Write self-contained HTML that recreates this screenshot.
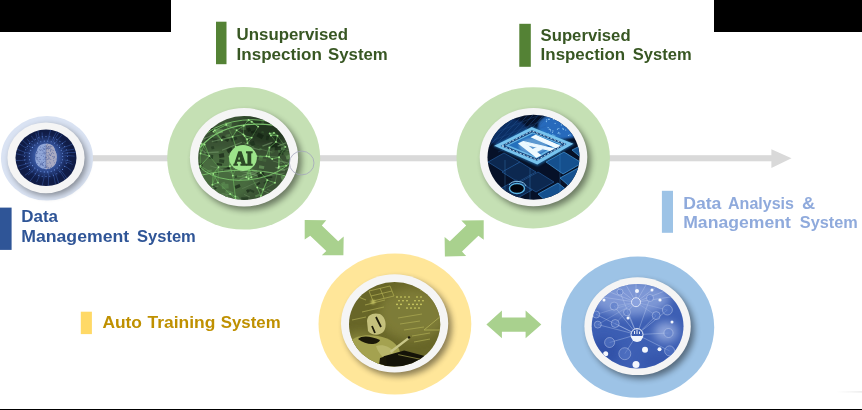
<!DOCTYPE html>
<html><head><meta charset="utf-8">
<style>
html,body{margin:0;padding:0;background:#fff;width:862px;height:410px;overflow:hidden}
svg{display:block}
text{font-family:"Liberation Sans",sans-serif;font-weight:bold}
</style></head><body>
<svg width="862" height="410" viewBox="0 0 862 410">
<defs>
  <filter id="sh" x="-30%" y="-30%" width="160%" height="160%">
    <feGaussianBlur stdDeviation="3"/>
  </filter>
  <filter id="bl1" x="-30%" y="-30%" width="160%" height="160%">
    <feGaussianBlur stdDeviation="1"/>
  </filter>
  <filter id="bl2" x="-50%" y="-50%" width="200%" height="200%">
    <feGaussianBlur stdDeviation="5"/>
  </filter>
  <radialGradient id="g1" cx="0.5" cy="0.5" r="0.5">
    <stop offset="0" stop-color="#3a64b8" stop-opacity="0.9"/>
    <stop offset="0.6" stop-color="#22408a" stop-opacity="0.6"/>
    <stop offset="1" stop-color="#0f1b45" stop-opacity="0"/>
  </radialGradient>
  <clipPath id="cp1"><ellipse cx="46" cy="157.8" rx="30.5" ry="28.3"/></clipPath>
  <clipPath id="cp2"><ellipse cx="244" cy="158" rx="45.8" ry="42"/></clipPath>
  <clipPath id="cp3"><ellipse cx="533.5" cy="157.2" rx="46" ry="42.5"/></clipPath>
  <clipPath id="cp4"><ellipse cx="394.6" cy="324.2" rx="45.6" ry="42.2"/></clipPath>
  <clipPath id="cp5"><ellipse cx="637.6" cy="326.2" rx="45.9" ry="42.3"/></clipPath>
</defs>
<rect width="862" height="410" fill="#fff"/>
<g opacity="0.998">
<!-- black bars -->
<rect x="0" y="0" width="171" height="32" fill="#000"/>
<rect x="714" y="0" width="148" height="32" fill="#000"/>
<rect x="0" y="409" width="862" height="1" fill="#000"/>
<defs><linearGradient id="fl" x1="0" x2="1"><stop offset="0" stop-color="#eaeaea" stop-opacity="0"/><stop offset="1" stop-color="#e6e6e6" stop-opacity="1"/></linearGradient></defs>
<rect x="836" y="391.3" width="26" height="1.2" fill="url(#fl)"/>

<!-- main gray line -->
<rect x="80" y="155.2" width="692" height="6.1" fill="#d9d9d9"/>
<polygon points="771.4,149.3 791.5,158.3 771.4,167.9" fill="#d9d9d9"/>

<!-- C1 -->
<ellipse cx="47" cy="158.3" rx="46" ry="42.3" fill="#dae3f3"/>
<ellipse cx="48.5" cy="160.5" rx="38.6" ry="35.4" fill="#000" opacity="0.38" filter="url(#sh)"/>
<ellipse cx="46" cy="157.8" rx="38.6" ry="35.4" fill="#f5f5f5"/>
<g clip-path="url(#cp1)">
<rect x="10" y="125" width="72" height="66" fill="#101c46"/>
<ellipse cx="46" cy="157" rx="27" ry="25" fill="url(#g1)"/>
<path d="M64.5,155.8 L68.9,155.6 L74.6,156.2" stroke="#4068b8" stroke-width="0.6" fill="none" opacity="0.75"/>
<path d="M64.5,160.0 L68.8,160.8 L71.6,161.8" stroke="#4068b8" stroke-width="0.6" fill="none" opacity="0.75"/>
<path d="M65.0,161.8 L69.1,162.9 L72.5,164.5" stroke="#4068b8" stroke-width="0.6" fill="none" opacity="0.75"/>
<path d="M63.9,165.8 L67.6,167.8 L71.4,170.7" stroke="#4068b8" stroke-width="0.6" fill="none" opacity="0.75"/>
<path d="M58.8,168.5 L61.8,171.4 L66.7,178.0" stroke="#4068b8" stroke-width="0.6" fill="none" opacity="0.75"/>
<path d="M58.2,169.9 L61.0,172.9 L66.0,180.9" stroke="#4068b8" stroke-width="0.6" fill="none" opacity="0.75"/>
<path d="M54.6,172.6 L56.5,176.2 L58.7,183.3" stroke="#4068b8" stroke-width="0.6" fill="none" opacity="0.75"/>
<path d="M52.6,173.5 L54.1,177.2 L55.4,183.8" stroke="#4068b8" stroke-width="0.6" fill="none" opacity="0.75"/>
<path d="M48.0,171.5 L48.6,175.5 L48.3,187.3" stroke="#4068b8" stroke-width="0.6" fill="none" opacity="0.75"/>
<path d="M44.3,174.3 L43.9,178.3 L41.8,187.2" stroke="#4068b8" stroke-width="0.6" fill="none" opacity="0.75"/>
<path d="M39.8,174.3 L38.5,178.1 L36.5,182.1" stroke="#4068b8" stroke-width="0.6" fill="none" opacity="0.75"/>
<path d="M37.2,171.1 L35.0,174.6 L28.5,183.1" stroke="#4068b8" stroke-width="0.6" fill="none" opacity="0.75"/>
<path d="M35.2,168.2 L32.4,171.2 L28.1,175.0" stroke="#4068b8" stroke-width="0.6" fill="none" opacity="0.75"/>
<path d="M31.6,169.8 L28.5,172.7 L24.8,175.4" stroke="#4068b8" stroke-width="0.6" fill="none" opacity="0.75"/>
<path d="M30.9,164.7 L27.2,166.8 L19.9,169.7" stroke="#4068b8" stroke-width="0.6" fill="none" opacity="0.75"/>
<path d="M29.6,162.7 L25.6,164.2 L17.6,166.2" stroke="#4068b8" stroke-width="0.6" fill="none" opacity="0.75"/>
<path d="M26.2,159.7 L21.9,160.4 L15.1,160.5" stroke="#4068b8" stroke-width="0.6" fill="none" opacity="0.75"/>
<path d="M26.1,155.2 L21.8,155.0 L12.6,152.9" stroke="#4068b8" stroke-width="0.6" fill="none" opacity="0.75"/>
<path d="M29.5,153.2 L25.3,152.4 L14.7,148.4" stroke="#4068b8" stroke-width="0.6" fill="none" opacity="0.75"/>
<path d="M27.8,148.5 L23.9,146.8 L19.0,143.5" stroke="#4068b8" stroke-width="0.6" fill="none" opacity="0.75"/>
<path d="M31.8,147.7 L28.2,145.5 L20.2,138.2" stroke="#4068b8" stroke-width="0.6" fill="none" opacity="0.75"/>
<path d="M33.3,145.5 L30.1,142.8 L27.4,139.3" stroke="#4068b8" stroke-width="0.6" fill="none" opacity="0.75"/>
<path d="M34.6,140.7 L32.2,137.4 L31.5,135.8" stroke="#4068b8" stroke-width="0.6" fill="none" opacity="0.75"/>
<path d="M38.8,141.3 L37.0,137.6 L35.8,133.2" stroke="#4068b8" stroke-width="0.6" fill="none" opacity="0.75"/>
<path d="M40.0,139.3 L38.7,135.5 L37.3,126.7" stroke="#4068b8" stroke-width="0.6" fill="none" opacity="0.75"/>
<path d="M42.9,139.3 L42.2,135.3 L42.1,132.4" stroke="#4068b8" stroke-width="0.6" fill="none" opacity="0.75"/>
<path d="M48.2,140.3 L48.8,136.3 L51.7,126.0" stroke="#4068b8" stroke-width="0.6" fill="none" opacity="0.75"/>
<path d="M52.4,140.5 L53.9,136.8 L59.2,127.2" stroke="#4068b8" stroke-width="0.6" fill="none" opacity="0.75"/>
<path d="M52.9,142.6 L54.7,139.0 L59.9,131.0" stroke="#4068b8" stroke-width="0.6" fill="none" opacity="0.75"/>
<path d="M55.2,143.2 L57.6,139.9 L62.5,134.2" stroke="#4068b8" stroke-width="0.6" fill="none" opacity="0.75"/>
<path d="M58.7,146.2 L61.9,143.5 L65.9,141.0" stroke="#4068b8" stroke-width="0.6" fill="none" opacity="0.75"/>
<path d="M61.4,148.8 L65.2,146.9 L76.0,143.0" stroke="#4068b8" stroke-width="0.6" fill="none" opacity="0.75"/>
<path d="M63.0,151.5 L67.1,150.3 L74.2,149.2" stroke="#4068b8" stroke-width="0.6" fill="none" opacity="0.75"/>
<path d="M64.7,153.3 L68.9,152.6 L76.1,152.4" stroke="#4068b8" stroke-width="0.6" fill="none" opacity="0.75"/>
<circle cx="62.7" cy="156.5" r="0.55" fill="#7aa0ea"/>
<circle cx="62.4" cy="159.7" r="0.55" fill="#7aa0ea"/>
<circle cx="61.3" cy="162.8" r="0.55" fill="#7aa0ea"/>
<circle cx="59.5" cy="165.6" r="0.55" fill="#7aa0ea"/>
<circle cx="57.2" cy="168.0" r="0.55" fill="#7aa0ea"/>
<circle cx="54.4" cy="169.9" r="0.55" fill="#7aa0ea"/>
<circle cx="51.2" cy="171.2" r="0.55" fill="#7aa0ea"/>
<circle cx="47.7" cy="171.9" r="0.55" fill="#7aa0ea"/>
<circle cx="44.3" cy="171.9" r="0.55" fill="#7aa0ea"/>
<circle cx="40.8" cy="171.2" r="0.55" fill="#7aa0ea"/>
<circle cx="37.6" cy="169.9" r="0.55" fill="#7aa0ea"/>
<circle cx="34.8" cy="168.0" r="0.55" fill="#7aa0ea"/>
<circle cx="32.5" cy="165.6" r="0.55" fill="#7aa0ea"/>
<circle cx="30.7" cy="162.8" r="0.55" fill="#7aa0ea"/>
<circle cx="29.6" cy="159.7" r="0.55" fill="#7aa0ea"/>
<circle cx="29.3" cy="156.5" r="0.55" fill="#7aa0ea"/>
<circle cx="29.6" cy="153.3" r="0.55" fill="#7aa0ea"/>
<circle cx="30.7" cy="150.2" r="0.55" fill="#7aa0ea"/>
<circle cx="32.5" cy="147.4" r="0.55" fill="#7aa0ea"/>
<circle cx="34.8" cy="145.0" r="0.55" fill="#7aa0ea"/>
<circle cx="37.6" cy="143.1" r="0.55" fill="#7aa0ea"/>
<circle cx="40.8" cy="141.8" r="0.55" fill="#7aa0ea"/>
<circle cx="44.3" cy="141.1" r="0.55" fill="#7aa0ea"/>
<circle cx="47.7" cy="141.1" r="0.55" fill="#7aa0ea"/>
<circle cx="51.2" cy="141.8" r="0.55" fill="#7aa0ea"/>
<circle cx="54.4" cy="143.1" r="0.55" fill="#7aa0ea"/>
<circle cx="57.2" cy="145.0" r="0.55" fill="#7aa0ea"/>
<circle cx="59.5" cy="147.4" r="0.55" fill="#7aa0ea"/>
<circle cx="61.3" cy="150.2" r="0.55" fill="#7aa0ea"/>
<circle cx="62.4" cy="153.3" r="0.55" fill="#7aa0ea"/>
<circle cx="67.6" cy="156.5" r="0.55" fill="#5a82d4"/>
<circle cx="67.3" cy="160.0" r="0.55" fill="#5a82d4"/>
<circle cx="66.3" cy="163.3" r="0.55" fill="#5a82d4"/>
<circle cx="64.7" cy="166.5" r="0.55" fill="#5a82d4"/>
<circle cx="62.5" cy="169.4" r="0.55" fill="#5a82d4"/>
<circle cx="59.9" cy="171.8" r="0.55" fill="#5a82d4"/>
<circle cx="56.8" cy="173.8" r="0.55" fill="#5a82d4"/>
<circle cx="53.4" cy="175.3" r="0.55" fill="#5a82d4"/>
<circle cx="49.8" cy="176.2" r="0.55" fill="#5a82d4"/>
<circle cx="46.0" cy="176.5" r="0.55" fill="#5a82d4"/>
<circle cx="42.2" cy="176.2" r="0.55" fill="#5a82d4"/>
<circle cx="38.6" cy="175.3" r="0.55" fill="#5a82d4"/>
<circle cx="35.2" cy="173.8" r="0.55" fill="#5a82d4"/>
<circle cx="32.1" cy="171.8" r="0.55" fill="#5a82d4"/>
<circle cx="29.5" cy="169.4" r="0.55" fill="#5a82d4"/>
<circle cx="27.3" cy="166.5" r="0.55" fill="#5a82d4"/>
<circle cx="25.7" cy="163.3" r="0.55" fill="#5a82d4"/>
<circle cx="24.7" cy="160.0" r="0.55" fill="#5a82d4"/>
<circle cx="24.4" cy="156.5" r="0.55" fill="#5a82d4"/>
<circle cx="24.7" cy="153.0" r="0.55" fill="#5a82d4"/>
<circle cx="25.7" cy="149.7" r="0.55" fill="#5a82d4"/>
<circle cx="27.3" cy="146.5" r="0.55" fill="#5a82d4"/>
<circle cx="29.5" cy="143.6" r="0.55" fill="#5a82d4"/>
<circle cx="32.1" cy="141.2" r="0.55" fill="#5a82d4"/>
<circle cx="35.2" cy="139.2" r="0.55" fill="#5a82d4"/>
<circle cx="38.6" cy="137.7" r="0.55" fill="#5a82d4"/>
<circle cx="42.2" cy="136.8" r="0.55" fill="#5a82d4"/>
<circle cx="46.0" cy="136.5" r="0.55" fill="#5a82d4"/>
<circle cx="49.8" cy="136.8" r="0.55" fill="#5a82d4"/>
<circle cx="53.4" cy="137.7" r="0.55" fill="#5a82d4"/>
<circle cx="56.8" cy="139.2" r="0.55" fill="#5a82d4"/>
<circle cx="59.9" cy="141.2" r="0.55" fill="#5a82d4"/>
<circle cx="62.5" cy="143.6" r="0.55" fill="#5a82d4"/>
<circle cx="64.7" cy="146.5" r="0.55" fill="#5a82d4"/>
<circle cx="66.3" cy="149.7" r="0.55" fill="#5a82d4"/>
<circle cx="67.3" cy="153.0" r="0.55" fill="#5a82d4"/>
<ellipse cx="46" cy="156.5" rx="15" ry="16" fill="#5a7ed0" opacity="0.55" filter="url(#bl2)"/>
<path d="M46,143.8 C40.5,143.8 37.5,146.5 37,150.5 C34.8,153.5 34.8,159.5 36.2,163 C38.2,167 42,169.2 46,169.2 C50,169.2 53.8,167 55.8,163 C57.2,159.5 57.2,153.5 55,150.5 C54.5,146.5 51.5,143.8 46,143.8 Z" fill="#90a6d8"/>
<clipPath id="brR"><rect x="46" y="140" width="14" height="32"/></clipPath>
<path d="M46,143.8 C40.5,143.8 37.5,146.5 37,150.5 C34.8,153.5 34.8,159.5 36.2,163 C38.2,167 42,169.2 46,169.2 C50,169.2 53.8,167 55.8,163 C57.2,159.5 57.2,153.5 55,150.5 C54.5,146.5 51.5,143.8 46,143.8 Z" fill="#a8aac2" clip-path="url(#brR)"/>
<circle cx="45.2" cy="153.4" r="0.5" fill="#4a5e9c" opacity="0.7"/>
<circle cx="35.6" cy="156.6" r="0.5" fill="#4a5e9c" opacity="0.7"/>
<circle cx="47.1" cy="159.3" r="0.5" fill="#4a5e9c" opacity="0.7"/>
<circle cx="36.4" cy="153.5" r="0.5" fill="#4a5e9c" opacity="0.7"/>
<circle cx="50.3" cy="155.3" r="0.5" fill="#4a5e9c" opacity="0.7"/>
<circle cx="50.7" cy="148.1" r="0.5" fill="#4a5e9c" opacity="0.7"/>
<circle cx="40.5" cy="147.0" r="0.5" fill="#4a5e9c" opacity="0.7"/>
<circle cx="46.1" cy="166.8" r="0.5" fill="#4a5e9c" opacity="0.7"/>
<circle cx="47.9" cy="163.2" r="0.5" fill="#4a5e9c" opacity="0.7"/>
<circle cx="43.6" cy="162.5" r="0.5" fill="#4a5e9c" opacity="0.7"/>
<circle cx="37.6" cy="151.4" r="0.5" fill="#4a5e9c" opacity="0.7"/>
<circle cx="49.7" cy="162.0" r="0.5" fill="#4a5e9c" opacity="0.7"/>
<circle cx="44.4" cy="146.4" r="0.5" fill="#4a5e9c" opacity="0.7"/>
<circle cx="41.1" cy="149.4" r="0.5" fill="#4a5e9c" opacity="0.7"/>
<circle cx="41.4" cy="164.1" r="0.5" fill="#4a5e9c" opacity="0.7"/>
<circle cx="39.7" cy="165.9" r="0.5" fill="#4a5e9c" opacity="0.7"/>
<circle cx="43.5" cy="156.3" r="0.5" fill="#4a5e9c" opacity="0.7"/>
<circle cx="36.0" cy="154.7" r="0.5" fill="#4a5e9c" opacity="0.7"/>
<circle cx="48.0" cy="147.3" r="0.5" fill="#4a5e9c" opacity="0.7"/>
<circle cx="47.7" cy="166.1" r="0.5" fill="#4a5e9c" opacity="0.7"/>
<circle cx="37.3" cy="157.5" r="0.5" fill="#4a5e9c" opacity="0.7"/>
<circle cx="45.9" cy="166.8" r="0.5" fill="#4a5e9c" opacity="0.7"/>
<circle cx="44.3" cy="154.0" r="0.5" fill="#4a5e9c" opacity="0.7"/>
<circle cx="48.9" cy="146.6" r="0.5" fill="#4a5e9c" opacity="0.7"/>
<circle cx="47.7" cy="148.5" r="0.5" fill="#4a5e9c" opacity="0.7"/>
<circle cx="48.3" cy="167.7" r="0.5" fill="#4a5e9c" opacity="0.7"/>
<circle cx="36.6" cy="157.8" r="0.5" fill="#4a5e9c" opacity="0.7"/>
<circle cx="48.2" cy="147.9" r="0.5" fill="#4a5e9c" opacity="0.7"/>
<circle cx="50.3" cy="167.5" r="0.5" fill="#4a5e9c" opacity="0.7"/>
<circle cx="40.5" cy="159.2" r="0.5" fill="#4a5e9c" opacity="0.7"/>
<circle cx="36.4" cy="153.2" r="0.5" fill="#4a5e9c" opacity="0.7"/>
<circle cx="49.7" cy="158.7" r="0.5" fill="#4a5e9c" opacity="0.7"/>
<circle cx="51.8" cy="146.4" r="0.5" fill="#4a5e9c" opacity="0.7"/>
<circle cx="42.8" cy="165.4" r="0.5" fill="#4a5e9c" opacity="0.7"/>
<circle cx="47.8" cy="155.3" r="0.5" fill="#4a5e9c" opacity="0.7"/>
<circle cx="43.9" cy="168.4" r="0.5" fill="#4a5e9c" opacity="0.7"/>
<circle cx="47.6" cy="144.7" r="0.5" fill="#4a5e9c" opacity="0.7"/>
<circle cx="52.3" cy="152.3" r="0.5" fill="#4a5e9c" opacity="0.7"/>
<circle cx="44.6" cy="149.5" r="0.5" fill="#4a5e9c" opacity="0.7"/>
<circle cx="44.8" cy="152.2" r="0.5" fill="#4a5e9c" opacity="0.7"/>
<circle cx="37.4" cy="159.7" r="0.5" fill="#4a5e9c" opacity="0.7"/>
<circle cx="37.7" cy="163.4" r="0.5" fill="#4a5e9c" opacity="0.7"/>
<circle cx="52.5" cy="156.4" r="0.5" fill="#4a5e9c" opacity="0.7"/>
<circle cx="50.4" cy="150.4" r="0.5" fill="#4a5e9c" opacity="0.7"/>
<circle cx="51.0" cy="154.7" r="0.5" fill="#4a5e9c" opacity="0.7"/>
<circle cx="43.9" cy="153.4" r="0.5" fill="#4a5e9c" opacity="0.7"/>
<circle cx="53.6" cy="153.3" r="0.5" fill="#4a5e9c" opacity="0.7"/>
<circle cx="49.5" cy="148.5" r="0.5" fill="#4a5e9c" opacity="0.7"/>
<circle cx="53.2" cy="150.6" r="0.5" fill="#4a5e9c" opacity="0.7"/>
<circle cx="56.2" cy="159.1" r="0.5" fill="#4a5e9c" opacity="0.7"/>
<circle cx="39.9" cy="153.8" r="0.5" fill="#4a5e9c" opacity="0.7"/>
<circle cx="48.3" cy="167.9" r="0.5" fill="#4a5e9c" opacity="0.7"/>
<circle cx="42.9" cy="147.7" r="0.5" fill="#4a5e9c" opacity="0.7"/>
<circle cx="47.3" cy="147.7" r="0.5" fill="#4a5e9c" opacity="0.7"/>
<circle cx="37.3" cy="157.9" r="0.5" fill="#4a5e9c" opacity="0.7"/>
<circle cx="50.1" cy="145.9" r="0.5" fill="#4a5e9c" opacity="0.7"/>
<circle cx="45.0" cy="161.5" r="0.5" fill="#4a5e9c" opacity="0.7"/>
<circle cx="51.5" cy="153.6" r="0.5" fill="#4a5e9c" opacity="0.7"/>
<circle cx="50.5" cy="163.1" r="0.5" fill="#4a5e9c" opacity="0.7"/>
<circle cx="54.0" cy="156.4" r="0.5" fill="#4a5e9c" opacity="0.7"/>
<circle cx="46.6" cy="148.5" r="0.5" fill="#4a5e9c" opacity="0.7"/>
<circle cx="48.7" cy="146.4" r="0.5" fill="#4a5e9c" opacity="0.7"/>
<circle cx="51.9" cy="149.7" r="0.5" fill="#4a5e9c" opacity="0.7"/>
<circle cx="45.1" cy="157.9" r="0.5" fill="#4a5e9c" opacity="0.7"/>
<circle cx="43.7" cy="148.5" r="0.5" fill="#4a5e9c" opacity="0.7"/>
<circle cx="45.6" cy="167.4" r="0.5" fill="#4a5e9c" opacity="0.7"/>
<circle cx="46.7" cy="167.3" r="0.5" fill="#4a5e9c" opacity="0.7"/>
<circle cx="54.2" cy="157.6" r="0.5" fill="#4a5e9c" opacity="0.7"/>
<circle cx="46.5" cy="157.4" r="0.5" fill="#4a5e9c" opacity="0.7"/>
<circle cx="49.0" cy="157.5" r="0.5" fill="#4a5e9c" opacity="0.7"/>
<circle cx="41.8" cy="162.0" r="0.5" fill="#4a5e9c" opacity="0.7"/>
<circle cx="50.6" cy="146.8" r="0.5" fill="#4a5e9c" opacity="0.7"/>
<circle cx="50.2" cy="155.4" r="0.5" fill="#4a5e9c" opacity="0.7"/>
<circle cx="45.8" cy="159.8" r="0.5" fill="#4a5e9c" opacity="0.7"/>
<circle cx="36.6" cy="159.0" r="0.5" fill="#4a5e9c" opacity="0.7"/>
<circle cx="43.3" cy="165.7" r="0.5" fill="#4a5e9c" opacity="0.7"/>
<circle cx="40.4" cy="164.4" r="0.5" fill="#4a5e9c" opacity="0.7"/>
<circle cx="50.8" cy="159.5" r="0.5" fill="#4a5e9c" opacity="0.7"/>
<circle cx="48.0" cy="159.3" r="0.5" fill="#4a5e9c" opacity="0.7"/>
<circle cx="49.7" cy="154.2" r="0.5" fill="#4a5e9c" opacity="0.7"/>
<circle cx="48.3" cy="148.7" r="0.5" fill="#4a5e9c" opacity="0.7"/>
<circle cx="36.9" cy="153.0" r="0.5" fill="#4a5e9c" opacity="0.7"/>
<circle cx="45.4" cy="157.4" r="0.5" fill="#4a5e9c" opacity="0.7"/>
<circle cx="42.5" cy="163.4" r="0.5" fill="#4a5e9c" opacity="0.7"/>
<circle cx="47.9" cy="168.1" r="0.5" fill="#4a5e9c" opacity="0.7"/>
<circle cx="37.7" cy="152.8" r="0.5" fill="#4a5e9c" opacity="0.7"/>
<circle cx="40.4" cy="163.3" r="0.5" fill="#4a5e9c" opacity="0.7"/>
<circle cx="39.5" cy="149.7" r="0.5" fill="#4a5e9c" opacity="0.7"/>
<circle cx="43.3" cy="162.4" r="0.5" fill="#4a5e9c" opacity="0.7"/>
<circle cx="45.3" cy="157.0" r="0.5" fill="#4a5e9c" opacity="0.7"/>
<circle cx="43.3" cy="159.8" r="0.5" fill="#4a5e9c" opacity="0.7"/>
<circle cx="40.5" cy="150.6" r="0.5" fill="#4a5e9c" opacity="0.7"/>
<circle cx="46.4" cy="149.1" r="0.5" fill="#4a5e9c" opacity="0.7"/>
<circle cx="44.7" cy="167.3" r="0.5" fill="#4a5e9c" opacity="0.7"/>
<circle cx="40.8" cy="165.1" r="0.5" fill="#4a5e9c" opacity="0.7"/>
<circle cx="48.2" cy="149.7" r="0.5" fill="#4a5e9c" opacity="0.7"/>
<circle cx="36.7" cy="151.0" r="0.5" fill="#4a5e9c" opacity="0.7"/>
<circle cx="41.8" cy="163.8" r="0.5" fill="#4a5e9c" opacity="0.7"/>
<circle cx="42.2" cy="150.3" r="0.5" fill="#4a5e9c" opacity="0.7"/>
<circle cx="48.2" cy="156.3" r="0.5" fill="#4a5e9c" opacity="0.7"/>
<circle cx="42.8" cy="164.7" r="0.5" fill="#4a5e9c" opacity="0.7"/>
<circle cx="43.9" cy="149.4" r="0.5" fill="#4a5e9c" opacity="0.7"/>
<circle cx="41.3" cy="155.6" r="0.5" fill="#4a5e9c" opacity="0.7"/>
<circle cx="48.3" cy="158.2" r="0.5" fill="#4a5e9c" opacity="0.7"/>
<circle cx="44.7" cy="148.8" r="0.5" fill="#4a5e9c" opacity="0.7"/>
<circle cx="43.9" cy="152.2" r="0.5" fill="#4a5e9c" opacity="0.7"/>
<circle cx="39.1" cy="157.6" r="0.5" fill="#4a5e9c" opacity="0.7"/>
<circle cx="39.5" cy="161.7" r="0.5" fill="#4a5e9c" opacity="0.7"/>
<circle cx="49.3" cy="147.7" r="0.5" fill="#4a5e9c" opacity="0.7"/>
<circle cx="48.6" cy="152.5" r="0.5" fill="#4a5e9c" opacity="0.7"/>
<circle cx="44.9" cy="159.1" r="0.5" fill="#4a5e9c" opacity="0.7"/>
<circle cx="51.5" cy="165.9" r="0.5" fill="#4a5e9c" opacity="0.7"/>
<circle cx="50.9" cy="149.5" r="0.5" fill="#4a5e9c" opacity="0.7"/>
<circle cx="46.9" cy="152.5" r="0.5" fill="#4a5e9c" opacity="0.7"/>
<circle cx="35.9" cy="157.8" r="0.5" fill="#4a5e9c" opacity="0.7"/>
<circle cx="45.4" cy="165.5" r="0.5" fill="#4a5e9c" opacity="0.7"/>
<circle cx="42.3" cy="164.6" r="0.5" fill="#4a5e9c" opacity="0.7"/>
<circle cx="46.3" cy="146.7" r="0.5" fill="#4a5e9c" opacity="0.7"/>
<circle cx="50.6" cy="151.2" r="0.5" fill="#4a5e9c" opacity="0.7"/>
<circle cx="46.7" cy="146.0" r="0.5" fill="#4a5e9c" opacity="0.7"/>
<circle cx="49.1" cy="153.9" r="0.5" fill="#4a5e9c" opacity="0.7"/>
<circle cx="54.2" cy="156.7" r="0.5" fill="#4a5e9c" opacity="0.7"/>
<circle cx="38.3" cy="161.1" r="0.5" fill="#4a5e9c" opacity="0.7"/>
<circle cx="43.0" cy="150.9" r="0.5" fill="#4a5e9c" opacity="0.7"/>
<circle cx="42.2" cy="153.7" r="0.5" fill="#4a5e9c" opacity="0.7"/>
<circle cx="39.3" cy="159.2" r="0.5" fill="#4a5e9c" opacity="0.7"/>
<circle cx="53.7" cy="158.2" r="0.5" fill="#4a5e9c" opacity="0.7"/>
<circle cx="35.9" cy="156.0" r="0.5" fill="#4a5e9c" opacity="0.7"/>
<circle cx="53.7" cy="160.8" r="0.5" fill="#4a5e9c" opacity="0.7"/>
<circle cx="54.6" cy="162.7" r="0.5" fill="#4a5e9c" opacity="0.7"/>
<path d="M46,145 L46,168" stroke="#5a6a98" stroke-width="0.6"/>
</g>

<!-- C2 -->
<ellipse cx="243.7" cy="158.3" rx="76.5" ry="71.3" fill="#c5e0b4"/>
<ellipse cx="247.5" cy="161" rx="54.1" ry="49.2" fill="#000" opacity="0.45" filter="url(#sh)"/>
<ellipse cx="244" cy="157.3" rx="54.1" ry="49.2" fill="#f5f5f5"/>
<g clip-path="url(#cp2)">
<rect x="196" y="114" width="96" height="90" fill="#3a5234"/>
<ellipse cx="222" cy="176" rx="34" ry="26" fill="#55804a" opacity="0.55" filter="url(#bl2)"/>
<rect x="239.4" y="164.4" width="7.5" height="3.1" fill="#223820" opacity="0.75" transform="rotate(25 239.4 164.4)"/>
<rect x="214.2" y="186.4" width="4.9" height="3.6" fill="#45683c" opacity="0.75" transform="rotate(-28 214.2 186.4)"/>
<rect x="225.1" y="122.2" width="6.9" height="3.9" fill="#5a8a50" opacity="0.75" transform="rotate(7 225.1 122.2)"/>
<rect x="234.0" y="154.8" width="6.4" height="3.8" fill="#223820" opacity="0.75" transform="rotate(-34 234.0 154.8)"/>
<rect x="246.7" y="119.4" width="3.1" height="2.3" fill="#5a8a50" opacity="0.75" transform="rotate(19 246.7 119.4)"/>
<rect x="227.3" y="167.2" width="3.2" height="2.3" fill="#1a2a18" opacity="0.75" transform="rotate(-0 227.3 167.2)"/>
<rect x="259.6" y="155.2" width="3.7" height="5.0" fill="#5a8a50" opacity="0.75" transform="rotate(15 259.6 155.2)"/>
<rect x="226.3" y="134.7" width="3.7" height="1.7" fill="#5a8a50" opacity="0.75" transform="rotate(-7 226.3 134.7)"/>
<rect x="277.3" y="148.8" width="7.7" height="4.5" fill="#5a8a50" opacity="0.75" transform="rotate(-20 277.3 148.8)"/>
<rect x="285.0" y="118.7" width="4.3" height="4.0" fill="#6a9a5e" opacity="0.75" transform="rotate(-30 285.0 118.7)"/>
<rect x="256.4" y="184.1" width="3.6" height="1.8" fill="#1a2a18" opacity="0.75" transform="rotate(-34 256.4 184.1)"/>
<rect x="235.4" y="197.1" width="2.8" height="4.0" fill="#5a8a50" opacity="0.75" transform="rotate(-31 235.4 197.1)"/>
<rect x="272.5" y="130.0" width="5.4" height="3.1" fill="#45683c" opacity="0.75" transform="rotate(34 272.5 130.0)"/>
<rect x="269.9" y="151.7" width="4.3" height="2.9" fill="#45683c" opacity="0.75" transform="rotate(-35 269.9 151.7)"/>
<rect x="279.0" y="201.7" width="5.6" height="5.0" fill="#5a8a50" opacity="0.75" transform="rotate(-20 279.0 201.7)"/>
<rect x="233.9" y="190.9" width="5.9" height="1.9" fill="#45683c" opacity="0.75" transform="rotate(-20 233.9 190.9)"/>
<rect x="220.8" y="183.5" width="4.0" height="2.5" fill="#5a8a50" opacity="0.75" transform="rotate(-30 220.8 183.5)"/>
<rect x="216.0" y="171.3" width="2.1" height="2.8" fill="#223820" opacity="0.75" transform="rotate(-3 216.0 171.3)"/>
<rect x="288.1" y="157.5" width="5.4" height="4.5" fill="#45683c" opacity="0.75" transform="rotate(9 288.1 157.5)"/>
<rect x="225.8" y="134.6" width="5.7" height="4.0" fill="#45683c" opacity="0.75" transform="rotate(17 225.8 134.6)"/>
<rect x="286.3" y="131.7" width="7.7" height="4.6" fill="#223820" opacity="0.75" transform="rotate(-30 286.3 131.7)"/>
<rect x="200.6" y="123.8" width="5.1" height="2.4" fill="#1a2a18" opacity="0.75" transform="rotate(14 200.6 123.8)"/>
<rect x="220.7" y="188.1" width="5.6" height="2.5" fill="#45683c" opacity="0.75" transform="rotate(30 220.7 188.1)"/>
<rect x="289.8" y="125.4" width="4.9" height="3.8" fill="#223820" opacity="0.75" transform="rotate(8 289.8 125.4)"/>
<rect x="222.9" y="196.6" width="3.2" height="1.6" fill="#1a2a18" opacity="0.75" transform="rotate(-6 222.9 196.6)"/>
<rect x="219.9" y="118.2" width="3.7" height="3.4" fill="#45683c" opacity="0.75" transform="rotate(-29 219.9 118.2)"/>
<rect x="209.3" y="154.5" width="4.0" height="4.1" fill="#223820" opacity="0.75" transform="rotate(6 209.3 154.5)"/>
<rect x="209.5" y="117.2" width="2.1" height="4.7" fill="#1a2a18" opacity="0.75" transform="rotate(-13 209.5 117.2)"/>
<rect x="199.2" y="167.9" width="2.4" height="1.7" fill="#1a2a18" opacity="0.75" transform="rotate(-13 199.2 167.9)"/>
<rect x="291.9" y="120.8" width="5.3" height="4.1" fill="#1a2a18" opacity="0.75" transform="rotate(17 291.9 120.8)"/>
<rect x="208.4" y="200.7" width="4.0" height="1.8" fill="#6a9a5e" opacity="0.75" transform="rotate(28 208.4 200.7)"/>
<rect x="279.6" y="151.5" width="6.7" height="4.5" fill="#223820" opacity="0.75" transform="rotate(-34 279.6 151.5)"/>
<rect x="259.6" y="148.1" width="2.1" height="1.8" fill="#5a8a50" opacity="0.75" transform="rotate(10 259.6 148.1)"/>
<rect x="291.4" y="193.2" width="6.4" height="2.9" fill="#1a2a18" opacity="0.75" transform="rotate(14 291.4 193.2)"/>
<rect x="239.9" y="155.6" width="5.2" height="3.3" fill="#223820" opacity="0.75" transform="rotate(-33 239.9 155.6)"/>
<rect x="253.7" y="157.3" width="3.4" height="3.9" fill="#6a9a5e" opacity="0.75" transform="rotate(20 253.7 157.3)"/>
<rect x="259.4" y="157.8" width="7.4" height="2.8" fill="#45683c" opacity="0.75" transform="rotate(12 259.4 157.8)"/>
<rect x="215.4" y="129.3" width="7.4" height="3.8" fill="#6a9a5e" opacity="0.75" transform="rotate(-0 215.4 129.3)"/>
<rect x="219.2" y="150.4" width="3.5" height="3.7" fill="#45683c" opacity="0.75" transform="rotate(27 219.2 150.4)"/>
<rect x="232.9" y="166.5" width="3.9" height="2.0" fill="#6a9a5e" opacity="0.75" transform="rotate(-10 232.9 166.5)"/>
<rect x="282.0" y="117.7" width="2.4" height="4.9" fill="#45683c" opacity="0.75" transform="rotate(-27 282.0 117.7)"/>
<rect x="241.2" y="197.3" width="7.0" height="2.8" fill="#223820" opacity="0.75" transform="rotate(-0 241.2 197.3)"/>
<rect x="226.3" y="189.5" width="7.9" height="3.1" fill="#5a8a50" opacity="0.75" transform="rotate(23 226.3 189.5)"/>
<rect x="222.7" y="168.7" width="6.1" height="2.5" fill="#1a2a18" opacity="0.75" transform="rotate(-13 222.7 168.7)"/>
<rect x="272.0" y="115.7" width="2.8" height="3.1" fill="#5a8a50" opacity="0.75" transform="rotate(19 272.0 115.7)"/>
<rect x="221.6" y="184.1" width="6.8" height="4.9" fill="#5a8a50" opacity="0.75" transform="rotate(-4 221.6 184.1)"/>
<rect x="256.5" y="173.0" width="6.8" height="4.9" fill="#1a2a18" opacity="0.75" transform="rotate(-21 256.5 173.0)"/>
<rect x="275.1" y="137.0" width="6.3" height="4.1" fill="#223820" opacity="0.75" transform="rotate(15 275.1 137.0)"/>
<rect x="213.2" y="138.5" width="4.1" height="3.9" fill="#223820" opacity="0.75" transform="rotate(0 213.2 138.5)"/>
<rect x="291.7" y="128.3" width="7.1" height="3.9" fill="#45683c" opacity="0.75" transform="rotate(-29 291.7 128.3)"/>
<rect x="285.5" y="179.0" width="2.8" height="3.1" fill="#1a2a18" opacity="0.75" transform="rotate(27 285.5 179.0)"/>
<rect x="196.6" y="163.5" width="5.9" height="3.3" fill="#1a2a18" opacity="0.75" transform="rotate(-3 196.6 163.5)"/>
<rect x="258.5" y="132.4" width="6.3" height="4.4" fill="#1a2a18" opacity="0.75" transform="rotate(30 258.5 132.4)"/>
<rect x="207.9" y="135.8" width="4.3" height="1.8" fill="#1a2a18" opacity="0.75" transform="rotate(3 207.9 135.8)"/>
<rect x="271.9" y="142.8" width="7.5" height="4.5" fill="#1a2a18" opacity="0.75" transform="rotate(0 271.9 142.8)"/>
<rect x="199.6" y="144.8" width="4.5" height="2.5" fill="#5a8a50" opacity="0.75" transform="rotate(-20 199.6 144.8)"/>
<rect x="279.3" y="152.6" width="2.2" height="3.4" fill="#1a2a18" opacity="0.75" transform="rotate(20 279.3 152.6)"/>
<rect x="209.5" y="127.4" width="5.1" height="4.0" fill="#1a2a18" opacity="0.75" transform="rotate(13 209.5 127.4)"/>
<rect x="286.8" y="158.3" width="7.7" height="1.8" fill="#45683c" opacity="0.75" transform="rotate(-4 286.8 158.3)"/>
<rect x="249.6" y="188.8" width="5.4" height="2.1" fill="#223820" opacity="0.75" transform="rotate(24 249.6 188.8)"/>
<rect x="249.8" y="142.1" width="4.3" height="4.5" fill="#223820" opacity="0.75" transform="rotate(-20 249.8 142.1)"/>
<rect x="277.7" y="201.2" width="5.1" height="3.5" fill="#45683c" opacity="0.75" transform="rotate(-6 277.7 201.2)"/>
<rect x="207.0" y="114.4" width="4.3" height="3.4" fill="#5a8a50" opacity="0.75" transform="rotate(1 207.0 114.4)"/>
<rect x="234.5" y="186.1" width="5.4" height="3.2" fill="#1a2a18" opacity="0.75" transform="rotate(-23 234.5 186.1)"/>
<rect x="285.4" y="155.3" width="7.5" height="4.3" fill="#6a9a5e" opacity="0.75" transform="rotate(-16 285.4 155.3)"/>
<rect x="241.4" y="125.4" width="4.6" height="4.4" fill="#6a9a5e" opacity="0.75" transform="rotate(2 241.4 125.4)"/>
<rect x="206.4" y="151.8" width="2.2" height="2.4" fill="#1a2a18" opacity="0.75" transform="rotate(20 206.4 151.8)"/>
<rect x="198.2" y="131.5" width="3.4" height="3.9" fill="#1a2a18" opacity="0.75" transform="rotate(16 198.2 131.5)"/>
<rect x="219.5" y="158.9" width="5.0" height="3.5" fill="#223820" opacity="0.75" transform="rotate(9 219.5 158.9)"/>
<rect x="264.9" y="177.1" width="7.3" height="1.6" fill="#1a2a18" opacity="0.75" transform="rotate(-6 264.9 177.1)"/>
<rect x="246.8" y="128.4" width="3.2" height="3.7" fill="#1a2a18" opacity="0.75" transform="rotate(-20 246.8 128.4)"/>
<rect x="216.8" y="162.9" width="5.5" height="2.0" fill="#1a2a18" opacity="0.75" transform="rotate(9 216.8 162.9)"/>
<rect x="229.4" y="130.3" width="5.6" height="4.6" fill="#45683c" opacity="0.75" transform="rotate(-20 229.4 130.3)"/>
<rect x="291.8" y="193.9" width="2.8" height="2.3" fill="#1a2a18" opacity="0.75" transform="rotate(-29 291.8 193.9)"/>
<rect x="233.2" y="153.1" width="7.6" height="3.4" fill="#1a2a18" opacity="0.75" transform="rotate(-26 233.2 153.1)"/>
<rect x="234.7" y="175.7" width="2.1" height="2.2" fill="#1a2a18" opacity="0.75" transform="rotate(-10 234.7 175.7)"/>
<rect x="274.8" y="146.5" width="6.2" height="3.7" fill="#1a2a18" opacity="0.75" transform="rotate(0 274.8 146.5)"/>
<rect x="261.8" y="131.0" width="2.4" height="1.9" fill="#5a8a50" opacity="0.75" transform="rotate(18 261.8 131.0)"/>
<rect x="254.9" y="195.5" width="4.9" height="2.2" fill="#5a8a50" opacity="0.75" transform="rotate(-21 254.9 195.5)"/>
<rect x="276.7" y="203.1" width="7.6" height="1.8" fill="#5a8a50" opacity="0.75" transform="rotate(-26 276.7 203.1)"/>
<rect x="261.4" y="121.0" width="2.6" height="2.9" fill="#6a9a5e" opacity="0.75" transform="rotate(1 261.4 121.0)"/>
<rect x="237.3" y="168.1" width="2.1" height="4.0" fill="#45683c" opacity="0.75" transform="rotate(-22 237.3 168.1)"/>
<rect x="239.6" y="180.5" width="4.4" height="2.2" fill="#45683c" opacity="0.75" transform="rotate(-28 239.6 180.5)"/>
<rect x="272.1" y="143.1" width="2.5" height="4.4" fill="#1a2a18" opacity="0.75" transform="rotate(31 272.1 143.1)"/>
<rect x="250.7" y="131.2" width="5.5" height="2.7" fill="#1a2a18" opacity="0.75" transform="rotate(-15 250.7 131.2)"/>
<rect x="207.2" y="180.9" width="3.0" height="4.8" fill="#45683c" opacity="0.75" transform="rotate(28 207.2 180.9)"/>
<rect x="280.5" y="176.5" width="6.6" height="4.2" fill="#6a9a5e" opacity="0.75" transform="rotate(-21 280.5 176.5)"/>
<rect x="213.7" y="185.8" width="3.8" height="1.9" fill="#1a2a18" opacity="0.75" transform="rotate(34 213.7 185.8)"/>
<rect x="282.7" y="118.5" width="3.6" height="4.9" fill="#1a2a18" opacity="0.75" transform="rotate(-11 282.7 118.5)"/>
<rect x="259.3" y="165.3" width="5.2" height="2.9" fill="#6a9a5e" opacity="0.75" transform="rotate(10 259.3 165.3)"/>
<rect x="263.3" y="182.6" width="7.9" height="1.6" fill="#223820" opacity="0.75" transform="rotate(-27 263.3 182.6)"/>
<rect x="218.8" y="153.9" width="5.0" height="4.2" fill="#1a2a18" opacity="0.75" transform="rotate(-9 218.8 153.9)"/>
<rect x="205.5" y="136.6" width="7.4" height="3.4" fill="#223820" opacity="0.75" transform="rotate(-6 205.5 136.6)"/>
<rect x="246.0" y="190.2" width="2.6" height="3.1" fill="#1a2a18" opacity="0.75" transform="rotate(-30 246.0 190.2)"/>
<rect x="253.4" y="182.3" width="2.3" height="4.8" fill="#45683c" opacity="0.75" transform="rotate(-8 253.4 182.3)"/>
<rect x="289.1" y="191.0" width="5.3" height="3.6" fill="#6a9a5e" opacity="0.75" transform="rotate(31 289.1 191.0)"/>
<rect x="236.4" y="161.4" width="5.6" height="2.8" fill="#1a2a18" opacity="0.75" transform="rotate(-1 236.4 161.4)"/>
<rect x="221.9" y="197.7" width="6.0" height="4.1" fill="#5a8a50" opacity="0.75" transform="rotate(-34 221.9 197.7)"/>
<rect x="219.5" y="117.8" width="2.9" height="4.1" fill="#6a9a5e" opacity="0.75" transform="rotate(-31 219.5 117.8)"/>
<rect x="226.3" y="149.8" width="5.5" height="4.0" fill="#1a2a18" opacity="0.75" transform="rotate(-30 226.3 149.8)"/>
<rect x="282.9" y="152.7" width="4.9" height="4.9" fill="#45683c" opacity="0.75" transform="rotate(-32 282.9 152.7)"/>
<rect x="205.5" y="186.9" width="7.5" height="2.0" fill="#45683c" opacity="0.75" transform="rotate(7 205.5 186.9)"/>
<rect x="207.0" y="170.2" width="4.7" height="2.2" fill="#5a8a50" opacity="0.75" transform="rotate(-10 207.0 170.2)"/>
<rect x="210.9" y="146.7" width="2.8" height="3.0" fill="#223820" opacity="0.75" transform="rotate(-17 210.9 146.7)"/>
<rect x="251.9" y="151.8" width="6.7" height="3.4" fill="#45683c" opacity="0.75" transform="rotate(32 251.9 151.8)"/>
<rect x="266.5" y="135.5" width="2.7" height="4.6" fill="#223820" opacity="0.75" transform="rotate(9 266.5 135.5)"/>
<rect x="230.5" y="138.4" width="6.1" height="3.5" fill="#223820" opacity="0.75" transform="rotate(-22 230.5 138.4)"/>
<rect x="222.7" y="135.5" width="7.7" height="3.3" fill="#1a2a18" opacity="0.75" transform="rotate(29 222.7 135.5)"/>
<rect x="280.4" y="117.6" width="2.4" height="2.4" fill="#6a9a5e" opacity="0.75" transform="rotate(-33 280.4 117.6)"/>
<rect x="199.7" y="134.0" width="3.7" height="4.1" fill="#1a2a18" opacity="0.75" transform="rotate(-24 199.7 134.0)"/>
<ellipse cx="266" cy="130" rx="28" ry="16" fill="#101a0e" opacity="0.5" filter="url(#bl2)"/>
<path d="M272.7,160.9 L282.2,163.6" stroke="#7aa070" stroke-width="0.7" opacity="0.55"/>
<path d="M241.7,175.7 L256.8,170.9" stroke="#7aa070" stroke-width="1.2" opacity="0.55"/>
<path d="M244.1,194.5 L250.0,197.0" stroke="#7aa070" stroke-width="0.8" opacity="0.55"/>
<path d="M274.1,172.5 L292.7,167.2" stroke="#7aa070" stroke-width="0.9" opacity="0.55"/>
<path d="M204.4,189.8 L218.4,186.1" stroke="#7aa070" stroke-width="0.8" opacity="0.55"/>
<path d="M203.8,152.8 L218.7,152.0" stroke="#7aa070" stroke-width="1.3" opacity="0.55"/>
<path d="M203.3,193.7 L224.6,198.2" stroke="#7aa070" stroke-width="1.3" opacity="0.55"/>
<path d="M277.6,146.1 L290.1,141.3" stroke="#7aa070" stroke-width="1.4" opacity="0.55"/>
<path d="M247.6,146.8 L260.4,150.0" stroke="#7aa070" stroke-width="1.2" opacity="0.55"/>
<path d="M207.7,200.0 L214.3,202.0" stroke="#7aa070" stroke-width="1.6" opacity="0.55"/>
<path d="M268.1,200.5 L282.2,197.0" stroke="#7aa070" stroke-width="1.1" opacity="0.55"/>
<path d="M266.9,189.2 L278.1,193.8" stroke="#7aa070" stroke-width="0.6" opacity="0.55"/>
<path d="M243.6,142.5 L254.3,147.4" stroke="#7aa070" stroke-width="0.7" opacity="0.55"/>
<path d="M290.6,197.9 L306.4,191.5" stroke="#7aa070" stroke-width="1.1" opacity="0.55"/>
<path d="M262.4,146.1 L272.5,142.3" stroke="#7aa070" stroke-width="1.4" opacity="0.55"/>
<path d="M283.9,199.1 L301.8,200.3" stroke="#7aa070" stroke-width="0.7" opacity="0.55"/>
<path d="M242.2,188.7 L258.8,181.4" stroke="#7aa070" stroke-width="0.6" opacity="0.55"/>
<path d="M204.5,199.2 L212.2,198.4" stroke="#7aa070" stroke-width="1.1" opacity="0.55"/>
<path d="M280.8,148.7 L290.7,151.1" stroke="#7aa070" stroke-width="0.7" opacity="0.55"/>
<path d="M211.8,141.6 L232.5,136.7" stroke="#7aa070" stroke-width="1.1" opacity="0.55"/>
<path d="M232.4,202.8 L249.7,204.4" stroke="#7aa070" stroke-width="1.1" opacity="0.55"/>
<path d="M221.7,193.7 L229.3,194.5" stroke="#7aa070" stroke-width="0.9" opacity="0.55"/>
<path d="M222.5,169.0 L231.5,169.8" stroke="#7aa070" stroke-width="0.7" opacity="0.55"/>
<path d="M197.8,149.0 L204.8,151.5" stroke="#7aa070" stroke-width="1.1" opacity="0.55"/>
<path d="M261.2,189.9 L269.1,193.2" stroke="#7aa070" stroke-width="1.0" opacity="0.55"/>
<path d="M240.2,171.3 L256.8,175.2" stroke="#7aa070" stroke-width="0.8" opacity="0.55"/>
<path d="M275.5,167.4 L285.0,170.5" stroke="#7aa070" stroke-width="1.5" opacity="0.55"/>
<path d="M278.4,160.7 L298.4,165.6" stroke="#7aa070" stroke-width="1.6" opacity="0.55"/>
<path d="M268.5,204.0 L281.8,206.9" stroke="#7aa070" stroke-width="1.4" opacity="0.55"/>
<path d="M246.3,172.3 L258.1,176.2" stroke="#7aa070" stroke-width="1.0" opacity="0.55"/>
<path d="M267.7,176.0 L284.7,173.1" stroke="#7aa070" stroke-width="0.7" opacity="0.55"/>
<path d="M260.8,149.3 L272.2,152.1" stroke="#7aa070" stroke-width="0.6" opacity="0.55"/>
<path d="M283.5,177.7 L298.3,180.0" stroke="#7aa070" stroke-width="0.7" opacity="0.55"/>
<path d="M198.1,186.1 L213.4,188.0" stroke="#7aa070" stroke-width="1.4" opacity="0.55"/>
<path d="M222.0,150.3 L242.0,142.3" stroke="#7aa070" stroke-width="1.1" opacity="0.55"/>
<path d="M255.9,201.1 L263.2,202.4" stroke="#7aa070" stroke-width="0.7" opacity="0.55"/>
<path d="M239.6,179.7 L257.6,172.2" stroke="#7aa070" stroke-width="1.3" opacity="0.55"/>
<path d="M210.3,165.9 L231.0,172.4" stroke="#7aa070" stroke-width="0.7" opacity="0.55"/>
<path d="M196.4,142.0 L213.5,134.8" stroke="#7aa070" stroke-width="1.4" opacity="0.55"/>
<path d="M273.5,192.3 L294.4,194.8" stroke="#7aa070" stroke-width="1.4" opacity="0.55"/>
<path d="M198,150 C215,128 245,118 292,128" stroke="#8ad87a" stroke-width="1.2" fill="none" opacity="0.85"/>
<path d="M198,176 C230,168 262,168 292,178" stroke="#8ad87a" stroke-width="1.0" fill="none" opacity="0.75"/>
<ellipse cx="246" cy="150" rx="52" ry="30" fill="none" stroke="#86d876" stroke-width="0.9" opacity="0.8" transform="rotate(-6 246 150)"/>
<path d="M213.3,173.9 L218.5,167.1" stroke="#78c868" stroke-width="0.55" opacity="0.6"/>
<path d="M213.3,173.9 L218.0,182.6" stroke="#78c868" stroke-width="0.55" opacity="0.6"/>
<path d="M213.3,173.9 L212.4,184.7" stroke="#78c868" stroke-width="0.55" opacity="0.6"/>
<path d="M256.4,156.2 L266.5,156.2" stroke="#78c868" stroke-width="0.55" opacity="0.6"/>
<path d="M256.4,156.2 L269.1,156.6" stroke="#78c868" stroke-width="0.55" opacity="0.6"/>
<path d="M256.4,156.2 L243.6,157.3" stroke="#78c868" stroke-width="0.55" opacity="0.6"/>
<path d="M218.0,182.6 L212.4,184.7" stroke="#78c868" stroke-width="0.55" opacity="0.6"/>
<path d="M218.0,182.6 L213.3,173.9" stroke="#78c868" stroke-width="0.55" opacity="0.6"/>
<path d="M218.0,182.6 L218.5,167.1" stroke="#78c868" stroke-width="0.55" opacity="0.6"/>
<path d="M272.2,159.0 L269.1,156.6" stroke="#78c868" stroke-width="0.55" opacity="0.6"/>
<path d="M272.2,159.0 L266.5,156.2" stroke="#78c868" stroke-width="0.55" opacity="0.6"/>
<path d="M272.2,159.0 L279.1,157.2" stroke="#78c868" stroke-width="0.55" opacity="0.6"/>
<path d="M244.5,135.8 L243.4,134.4" stroke="#78c868" stroke-width="0.55" opacity="0.6"/>
<path d="M244.5,135.8 L247.1,139.2" stroke="#78c868" stroke-width="0.55" opacity="0.6"/>
<path d="M244.5,135.8 L251.7,137.6" stroke="#78c868" stroke-width="0.55" opacity="0.6"/>
<path d="M251.8,121.8 L248.6,119.9" stroke="#78c868" stroke-width="0.55" opacity="0.6"/>
<path d="M251.8,121.8 L258.2,126.6" stroke="#78c868" stroke-width="0.55" opacity="0.6"/>
<path d="M251.8,121.8 L243.8,125.7" stroke="#78c868" stroke-width="0.55" opacity="0.6"/>
<path d="M270.9,135.5 L269.7,133.5" stroke="#78c868" stroke-width="0.55" opacity="0.6"/>
<path d="M270.9,135.5 L274.0,132.9" stroke="#78c868" stroke-width="0.55" opacity="0.6"/>
<path d="M270.9,135.5 L277.5,135.7" stroke="#78c868" stroke-width="0.55" opacity="0.6"/>
<path d="M278.4,167.7 L278.9,166.5" stroke="#78c868" stroke-width="0.55" opacity="0.6"/>
<path d="M278.4,167.7 L286.3,165.6" stroke="#78c868" stroke-width="0.55" opacity="0.6"/>
<path d="M278.4,167.7 L279.1,157.2" stroke="#78c868" stroke-width="0.55" opacity="0.6"/>
<path d="M201.3,143.6 L204.6,144.4" stroke="#78c868" stroke-width="0.55" opacity="0.6"/>
<path d="M201.3,143.6 L200.5,153.5" stroke="#78c868" stroke-width="0.55" opacity="0.6"/>
<path d="M201.3,143.6 L209.4,156.0" stroke="#78c868" stroke-width="0.55" opacity="0.6"/>
<path d="M243.8,125.7 L248.6,119.9" stroke="#78c868" stroke-width="0.55" opacity="0.6"/>
<path d="M243.8,125.7 L236.6,130.3" stroke="#78c868" stroke-width="0.55" opacity="0.6"/>
<path d="M243.8,125.7 L243.4,134.4" stroke="#78c868" stroke-width="0.55" opacity="0.6"/>
<path d="M285.4,146.9 L276.0,141.9" stroke="#78c868" stroke-width="0.55" opacity="0.6"/>
<path d="M285.4,146.9 L279.1,157.2" stroke="#78c868" stroke-width="0.55" opacity="0.6"/>
<path d="M285.4,146.9 L277.5,135.7" stroke="#78c868" stroke-width="0.55" opacity="0.6"/>
<path d="M212.4,184.7 L218.0,182.6" stroke="#78c868" stroke-width="0.55" opacity="0.6"/>
<path d="M212.4,184.7 L213.3,173.9" stroke="#78c868" stroke-width="0.55" opacity="0.6"/>
<path d="M212.4,184.7 L218.5,167.1" stroke="#78c868" stroke-width="0.55" opacity="0.6"/>
<path d="M239.7,162.4 L237.2,164.8" stroke="#78c868" stroke-width="0.55" opacity="0.6"/>
<path d="M239.7,162.4 L243.6,157.3" stroke="#78c868" stroke-width="0.55" opacity="0.6"/>
<path d="M239.7,162.4 L229.9,166.2" stroke="#78c868" stroke-width="0.55" opacity="0.6"/>
<path d="M229.6,156.7 L229.9,166.2" stroke="#78c868" stroke-width="0.55" opacity="0.6"/>
<path d="M229.6,156.7 L237.2,164.8" stroke="#78c868" stroke-width="0.55" opacity="0.6"/>
<path d="M229.6,156.7 L239.7,162.4" stroke="#78c868" stroke-width="0.55" opacity="0.6"/>
<path d="M277.5,135.7 L274.0,132.9" stroke="#78c868" stroke-width="0.55" opacity="0.6"/>
<path d="M277.5,135.7 L276.0,141.9" stroke="#78c868" stroke-width="0.55" opacity="0.6"/>
<path d="M277.5,135.7 L270.9,135.5" stroke="#78c868" stroke-width="0.55" opacity="0.6"/>
<path d="M269.7,133.5 L270.9,135.5" stroke="#78c868" stroke-width="0.55" opacity="0.6"/>
<path d="M269.7,133.5 L274.0,132.9" stroke="#78c868" stroke-width="0.55" opacity="0.6"/>
<path d="M269.7,133.5 L277.5,135.7" stroke="#78c868" stroke-width="0.55" opacity="0.6"/>
<path d="M267.3,180.1 L275.0,182.8" stroke="#78c868" stroke-width="0.55" opacity="0.6"/>
<path d="M267.3,180.1 L260.8,172.8" stroke="#78c868" stroke-width="0.55" opacity="0.6"/>
<path d="M267.3,180.1 L263.3,189.4" stroke="#78c868" stroke-width="0.55" opacity="0.6"/>
<path d="M251.4,177.3 L248.6,178.8" stroke="#78c868" stroke-width="0.55" opacity="0.6"/>
<path d="M251.4,177.3 L246.3,177.2" stroke="#78c868" stroke-width="0.55" opacity="0.6"/>
<path d="M251.4,177.3 L249.2,168.3" stroke="#78c868" stroke-width="0.55" opacity="0.6"/>
<path d="M209.4,156.0 L200.5,153.5" stroke="#78c868" stroke-width="0.55" opacity="0.6"/>
<path d="M209.4,156.0 L204.6,144.4" stroke="#78c868" stroke-width="0.55" opacity="0.6"/>
<path d="M209.4,156.0 L200.4,165.9" stroke="#78c868" stroke-width="0.55" opacity="0.6"/>
<path d="M274.0,132.9 L270.9,135.5" stroke="#78c868" stroke-width="0.55" opacity="0.6"/>
<path d="M274.0,132.9 L269.7,133.5" stroke="#78c868" stroke-width="0.55" opacity="0.6"/>
<path d="M274.0,132.9 L277.5,135.7" stroke="#78c868" stroke-width="0.55" opacity="0.6"/>
<path d="M235.7,146.7 L239.5,148.4" stroke="#78c868" stroke-width="0.55" opacity="0.6"/>
<path d="M235.7,146.7 L232.6,136.8" stroke="#78c868" stroke-width="0.55" opacity="0.6"/>
<path d="M235.7,146.7 L229.6,156.7" stroke="#78c868" stroke-width="0.55" opacity="0.6"/>
<path d="M239.5,148.4 L235.7,146.7" stroke="#78c868" stroke-width="0.55" opacity="0.6"/>
<path d="M239.5,148.4 L247.5,143.2" stroke="#78c868" stroke-width="0.55" opacity="0.6"/>
<path d="M239.5,148.4 L243.6,157.3" stroke="#78c868" stroke-width="0.55" opacity="0.6"/>
<path d="M243.6,157.3 L239.7,162.4" stroke="#78c868" stroke-width="0.55" opacity="0.6"/>
<path d="M243.6,157.3 L239.5,148.4" stroke="#78c868" stroke-width="0.55" opacity="0.6"/>
<path d="M243.6,157.3 L237.2,164.8" stroke="#78c868" stroke-width="0.55" opacity="0.6"/>
<path d="M248.6,178.8 L246.3,177.2" stroke="#78c868" stroke-width="0.55" opacity="0.6"/>
<path d="M248.6,178.8 L251.4,177.3" stroke="#78c868" stroke-width="0.55" opacity="0.6"/>
<path d="M248.6,178.8 L249.2,168.3" stroke="#78c868" stroke-width="0.55" opacity="0.6"/>
<path d="M218.5,167.1 L213.3,173.9" stroke="#78c868" stroke-width="0.55" opacity="0.6"/>
<path d="M218.5,167.1 L229.9,166.2" stroke="#78c868" stroke-width="0.55" opacity="0.6"/>
<path d="M218.5,167.1 L209.4,156.0" stroke="#78c868" stroke-width="0.55" opacity="0.6"/>
<path d="M249.2,168.3 L251.4,177.3" stroke="#78c868" stroke-width="0.55" opacity="0.6"/>
<path d="M249.2,168.3 L246.3,177.2" stroke="#78c868" stroke-width="0.55" opacity="0.6"/>
<path d="M249.2,168.3 L248.6,178.8" stroke="#78c868" stroke-width="0.55" opacity="0.6"/>
<path d="M214.8,130.3 L213.4,131.5" stroke="#78c868" stroke-width="0.55" opacity="0.6"/>
<path d="M214.8,130.3 L221.8,140.3" stroke="#78c868" stroke-width="0.55" opacity="0.6"/>
<path d="M214.8,130.3 L226.3,124.7" stroke="#78c868" stroke-width="0.55" opacity="0.6"/>
<path d="M230.1,193.9 L235.4,196.5" stroke="#78c868" stroke-width="0.55" opacity="0.6"/>
<path d="M230.1,193.9 L235.5,199.1" stroke="#78c868" stroke-width="0.55" opacity="0.6"/>
<path d="M230.1,193.9 L218.0,182.6" stroke="#78c868" stroke-width="0.55" opacity="0.6"/>
<path d="M229.9,166.2 L237.2,164.8" stroke="#78c868" stroke-width="0.55" opacity="0.6"/>
<path d="M229.9,166.2 L229.6,156.7" stroke="#78c868" stroke-width="0.55" opacity="0.6"/>
<path d="M229.9,166.2 L232.8,175.6" stroke="#78c868" stroke-width="0.55" opacity="0.6"/>
<path d="M226.3,124.7 L236.6,130.3" stroke="#78c868" stroke-width="0.55" opacity="0.6"/>
<path d="M226.3,124.7 L214.8,130.3" stroke="#78c868" stroke-width="0.55" opacity="0.6"/>
<path d="M226.3,124.7 L232.6,136.8" stroke="#78c868" stroke-width="0.55" opacity="0.6"/>
<path d="M269.4,147.5 L276.0,141.9" stroke="#78c868" stroke-width="0.55" opacity="0.6"/>
<path d="M269.4,147.5 L269.1,156.6" stroke="#78c868" stroke-width="0.55" opacity="0.6"/>
<path d="M269.4,147.5 L266.5,156.2" stroke="#78c868" stroke-width="0.55" opacity="0.6"/>
<path d="M260.8,172.8 L267.3,180.1" stroke="#78c868" stroke-width="0.55" opacity="0.6"/>
<path d="M260.8,172.8 L251.4,177.3" stroke="#78c868" stroke-width="0.55" opacity="0.6"/>
<path d="M260.8,172.8 L249.2,168.3" stroke="#78c868" stroke-width="0.55" opacity="0.6"/>
<path d="M235.5,199.1 L235.4,196.5" stroke="#78c868" stroke-width="0.55" opacity="0.6"/>
<path d="M235.5,199.1 L230.1,193.9" stroke="#78c868" stroke-width="0.55" opacity="0.6"/>
<path d="M235.5,199.1 L232.8,175.6" stroke="#78c868" stroke-width="0.55" opacity="0.6"/>
<path d="M286.3,165.6 L278.9,166.5" stroke="#78c868" stroke-width="0.55" opacity="0.6"/>
<path d="M286.3,165.6 L278.4,167.7" stroke="#78c868" stroke-width="0.55" opacity="0.6"/>
<path d="M286.3,165.6 L279.1,157.2" stroke="#78c868" stroke-width="0.55" opacity="0.6"/>
<path d="M279.1,157.2 L272.2,159.0" stroke="#78c868" stroke-width="0.55" opacity="0.6"/>
<path d="M279.1,157.2 L278.9,166.5" stroke="#78c868" stroke-width="0.55" opacity="0.6"/>
<path d="M279.1,157.2 L269.1,156.6" stroke="#78c868" stroke-width="0.55" opacity="0.6"/>
<path d="M232.6,136.8 L236.6,130.3" stroke="#78c868" stroke-width="0.55" opacity="0.6"/>
<path d="M232.6,136.8 L235.7,146.7" stroke="#78c868" stroke-width="0.55" opacity="0.6"/>
<path d="M232.6,136.8 L243.4,134.4" stroke="#78c868" stroke-width="0.55" opacity="0.6"/>
<path d="M269.1,156.6 L266.5,156.2" stroke="#78c868" stroke-width="0.55" opacity="0.6"/>
<path d="M269.1,156.6 L272.2,159.0" stroke="#78c868" stroke-width="0.55" opacity="0.6"/>
<path d="M269.1,156.6 L269.4,147.5" stroke="#78c868" stroke-width="0.55" opacity="0.6"/>
<path d="M221.8,140.3 L232.6,136.8" stroke="#78c868" stroke-width="0.55" opacity="0.6"/>
<path d="M221.8,140.3 L213.4,131.5" stroke="#78c868" stroke-width="0.55" opacity="0.6"/>
<path d="M221.8,140.3 L214.8,130.3" stroke="#78c868" stroke-width="0.55" opacity="0.6"/>
<path d="M236.6,130.3 L232.6,136.8" stroke="#78c868" stroke-width="0.55" opacity="0.6"/>
<path d="M236.6,130.3 L243.4,134.4" stroke="#78c868" stroke-width="0.55" opacity="0.6"/>
<path d="M236.6,130.3 L243.8,125.7" stroke="#78c868" stroke-width="0.55" opacity="0.6"/>
<path d="M204.6,144.4 L201.3,143.6" stroke="#78c868" stroke-width="0.55" opacity="0.6"/>
<path d="M204.6,144.4 L200.5,153.5" stroke="#78c868" stroke-width="0.55" opacity="0.6"/>
<path d="M204.6,144.4 L209.4,156.0" stroke="#78c868" stroke-width="0.55" opacity="0.6"/>
<path d="M266.5,156.2 L269.1,156.6" stroke="#78c868" stroke-width="0.55" opacity="0.6"/>
<path d="M266.5,156.2 L272.2,159.0" stroke="#78c868" stroke-width="0.55" opacity="0.6"/>
<path d="M266.5,156.2 L269.4,147.5" stroke="#78c868" stroke-width="0.55" opacity="0.6"/>
<path d="M246.3,177.2 L248.6,178.8" stroke="#78c868" stroke-width="0.55" opacity="0.6"/>
<path d="M246.3,177.2 L251.4,177.3" stroke="#78c868" stroke-width="0.55" opacity="0.6"/>
<path d="M246.3,177.2 L249.2,168.3" stroke="#78c868" stroke-width="0.55" opacity="0.6"/>
<path d="M275.0,182.8 L267.3,180.1" stroke="#78c868" stroke-width="0.55" opacity="0.6"/>
<path d="M275.0,182.8 L263.3,189.4" stroke="#78c868" stroke-width="0.55" opacity="0.6"/>
<path d="M275.0,182.8 L278.4,167.7" stroke="#78c868" stroke-width="0.55" opacity="0.6"/>
<path d="M278.9,166.5 L278.4,167.7" stroke="#78c868" stroke-width="0.55" opacity="0.6"/>
<path d="M278.9,166.5 L286.3,165.6" stroke="#78c868" stroke-width="0.55" opacity="0.6"/>
<path d="M278.9,166.5 L279.1,157.2" stroke="#78c868" stroke-width="0.55" opacity="0.6"/>
<path d="M237.2,164.8 L239.7,162.4" stroke="#78c868" stroke-width="0.55" opacity="0.6"/>
<path d="M237.2,164.8 L229.9,166.2" stroke="#78c868" stroke-width="0.55" opacity="0.6"/>
<path d="M237.2,164.8 L243.6,157.3" stroke="#78c868" stroke-width="0.55" opacity="0.6"/>
<path d="M276.0,141.9 L277.5,135.7" stroke="#78c868" stroke-width="0.55" opacity="0.6"/>
<path d="M276.0,141.9 L270.9,135.5" stroke="#78c868" stroke-width="0.55" opacity="0.6"/>
<path d="M276.0,141.9 L269.4,147.5" stroke="#78c868" stroke-width="0.55" opacity="0.6"/>
<path d="M247.1,139.2 L247.5,143.2" stroke="#78c868" stroke-width="0.55" opacity="0.6"/>
<path d="M247.1,139.2 L244.5,135.8" stroke="#78c868" stroke-width="0.55" opacity="0.6"/>
<path d="M247.1,139.2 L251.7,137.6" stroke="#78c868" stroke-width="0.55" opacity="0.6"/>
<path d="M261.0,196.1 L263.3,189.4" stroke="#78c868" stroke-width="0.55" opacity="0.6"/>
<path d="M261.0,196.1 L257.2,187.5" stroke="#78c868" stroke-width="0.55" opacity="0.6"/>
<path d="M261.0,196.1 L267.3,180.1" stroke="#78c868" stroke-width="0.55" opacity="0.6"/>
<path d="M200.4,165.9 L200.5,153.5" stroke="#78c868" stroke-width="0.55" opacity="0.6"/>
<path d="M200.4,165.9 L209.4,156.0" stroke="#78c868" stroke-width="0.55" opacity="0.6"/>
<path d="M200.4,165.9 L213.3,173.9" stroke="#78c868" stroke-width="0.55" opacity="0.6"/>
<path d="M257.2,187.5 L263.3,189.4" stroke="#78c868" stroke-width="0.55" opacity="0.6"/>
<path d="M257.2,187.5 L261.0,196.1" stroke="#78c868" stroke-width="0.55" opacity="0.6"/>
<path d="M257.2,187.5 L251.4,177.3" stroke="#78c868" stroke-width="0.55" opacity="0.6"/>
<path d="M251.7,137.6 L247.1,139.2" stroke="#78c868" stroke-width="0.55" opacity="0.6"/>
<path d="M251.7,137.6 L247.5,143.2" stroke="#78c868" stroke-width="0.55" opacity="0.6"/>
<path d="M251.7,137.6 L244.5,135.8" stroke="#78c868" stroke-width="0.55" opacity="0.6"/>
<path d="M235.4,196.5 L235.5,199.1" stroke="#78c868" stroke-width="0.55" opacity="0.6"/>
<path d="M235.4,196.5 L230.1,193.9" stroke="#78c868" stroke-width="0.55" opacity="0.6"/>
<path d="M235.4,196.5 L232.8,175.6" stroke="#78c868" stroke-width="0.55" opacity="0.6"/>
<path d="M200.5,153.5 L209.4,156.0" stroke="#78c868" stroke-width="0.55" opacity="0.6"/>
<path d="M200.5,153.5 L201.3,143.6" stroke="#78c868" stroke-width="0.55" opacity="0.6"/>
<path d="M200.5,153.5 L204.6,144.4" stroke="#78c868" stroke-width="0.55" opacity="0.6"/>
<path d="M258.2,126.6 L251.8,121.8" stroke="#78c868" stroke-width="0.55" opacity="0.6"/>
<path d="M258.2,126.6 L248.6,119.9" stroke="#78c868" stroke-width="0.55" opacity="0.6"/>
<path d="M258.2,126.6 L251.7,137.6" stroke="#78c868" stroke-width="0.55" opacity="0.6"/>
<path d="M247.5,143.2 L247.1,139.2" stroke="#78c868" stroke-width="0.55" opacity="0.6"/>
<path d="M247.5,143.2 L251.7,137.6" stroke="#78c868" stroke-width="0.55" opacity="0.6"/>
<path d="M247.5,143.2 L244.5,135.8" stroke="#78c868" stroke-width="0.55" opacity="0.6"/>
<path d="M243.4,134.4 L244.5,135.8" stroke="#78c868" stroke-width="0.55" opacity="0.6"/>
<path d="M243.4,134.4 L247.1,139.2" stroke="#78c868" stroke-width="0.55" opacity="0.6"/>
<path d="M243.4,134.4 L236.6,130.3" stroke="#78c868" stroke-width="0.55" opacity="0.6"/>
<path d="M213.4,131.5 L214.8,130.3" stroke="#78c868" stroke-width="0.55" opacity="0.6"/>
<path d="M213.4,131.5 L221.8,140.3" stroke="#78c868" stroke-width="0.55" opacity="0.6"/>
<path d="M213.4,131.5 L226.3,124.7" stroke="#78c868" stroke-width="0.55" opacity="0.6"/>
<path d="M232.8,175.6 L229.9,166.2" stroke="#78c868" stroke-width="0.55" opacity="0.6"/>
<path d="M232.8,175.6 L237.2,164.8" stroke="#78c868" stroke-width="0.55" opacity="0.6"/>
<path d="M232.8,175.6 L246.3,177.2" stroke="#78c868" stroke-width="0.55" opacity="0.6"/>
<path d="M248.6,119.9 L251.8,121.8" stroke="#78c868" stroke-width="0.55" opacity="0.6"/>
<path d="M248.6,119.9 L243.8,125.7" stroke="#78c868" stroke-width="0.55" opacity="0.6"/>
<path d="M248.6,119.9 L258.2,126.6" stroke="#78c868" stroke-width="0.55" opacity="0.6"/>
<path d="M263.3,189.4 L257.2,187.5" stroke="#78c868" stroke-width="0.55" opacity="0.6"/>
<path d="M263.3,189.4 L261.0,196.1" stroke="#78c868" stroke-width="0.55" opacity="0.6"/>
<path d="M263.3,189.4 L267.3,180.1" stroke="#78c868" stroke-width="0.55" opacity="0.6"/>
<circle cx="213.3" cy="173.9" r="0.95" fill="#a8f094" opacity="0.9"/>
<circle cx="256.4" cy="156.2" r="0.95" fill="#a8f094" opacity="0.9"/>
<circle cx="218.0" cy="182.6" r="0.95" fill="#a8f094" opacity="0.9"/>
<circle cx="272.2" cy="159.0" r="0.95" fill="#a8f094" opacity="0.9"/>
<circle cx="244.5" cy="135.8" r="0.95" fill="#a8f094" opacity="0.9"/>
<circle cx="251.8" cy="121.8" r="0.95" fill="#a8f094" opacity="0.9"/>
<circle cx="270.9" cy="135.5" r="0.95" fill="#a8f094" opacity="0.9"/>
<circle cx="278.4" cy="167.7" r="0.95" fill="#a8f094" opacity="0.9"/>
<circle cx="201.3" cy="143.6" r="0.95" fill="#a8f094" opacity="0.9"/>
<circle cx="243.8" cy="125.7" r="0.95" fill="#a8f094" opacity="0.9"/>
<circle cx="285.4" cy="146.9" r="0.95" fill="#a8f094" opacity="0.9"/>
<circle cx="212.4" cy="184.7" r="0.95" fill="#a8f094" opacity="0.9"/>
<circle cx="239.7" cy="162.4" r="0.95" fill="#a8f094" opacity="0.9"/>
<circle cx="229.6" cy="156.7" r="0.95" fill="#a8f094" opacity="0.9"/>
<circle cx="277.5" cy="135.7" r="0.95" fill="#a8f094" opacity="0.9"/>
<circle cx="269.7" cy="133.5" r="0.95" fill="#a8f094" opacity="0.9"/>
<circle cx="267.3" cy="180.1" r="0.95" fill="#a8f094" opacity="0.9"/>
<circle cx="251.4" cy="177.3" r="0.95" fill="#a8f094" opacity="0.9"/>
<circle cx="209.4" cy="156.0" r="0.95" fill="#a8f094" opacity="0.9"/>
<circle cx="274.0" cy="132.9" r="0.95" fill="#a8f094" opacity="0.9"/>
<circle cx="235.7" cy="146.7" r="0.95" fill="#a8f094" opacity="0.9"/>
<circle cx="239.5" cy="148.4" r="0.95" fill="#a8f094" opacity="0.9"/>
<circle cx="243.6" cy="157.3" r="0.95" fill="#a8f094" opacity="0.9"/>
<circle cx="248.6" cy="178.8" r="0.95" fill="#a8f094" opacity="0.9"/>
<circle cx="218.5" cy="167.1" r="0.95" fill="#a8f094" opacity="0.9"/>
<circle cx="249.2" cy="168.3" r="0.95" fill="#a8f094" opacity="0.9"/>
<circle cx="214.8" cy="130.3" r="0.95" fill="#a8f094" opacity="0.9"/>
<circle cx="230.1" cy="193.9" r="0.95" fill="#a8f094" opacity="0.9"/>
<circle cx="229.9" cy="166.2" r="0.95" fill="#a8f094" opacity="0.9"/>
<circle cx="226.3" cy="124.7" r="0.95" fill="#a8f094" opacity="0.9"/>
<circle cx="269.4" cy="147.5" r="0.95" fill="#a8f094" opacity="0.9"/>
<circle cx="260.8" cy="172.8" r="0.95" fill="#a8f094" opacity="0.9"/>
<circle cx="235.5" cy="199.1" r="0.95" fill="#a8f094" opacity="0.9"/>
<circle cx="286.3" cy="165.6" r="0.95" fill="#a8f094" opacity="0.9"/>
<circle cx="279.1" cy="157.2" r="0.95" fill="#a8f094" opacity="0.9"/>
<circle cx="232.6" cy="136.8" r="0.95" fill="#a8f094" opacity="0.9"/>
<circle cx="269.1" cy="156.6" r="0.95" fill="#a8f094" opacity="0.9"/>
<circle cx="221.8" cy="140.3" r="0.95" fill="#a8f094" opacity="0.9"/>
<circle cx="236.6" cy="130.3" r="0.95" fill="#a8f094" opacity="0.9"/>
<circle cx="204.6" cy="144.4" r="0.95" fill="#a8f094" opacity="0.9"/>
<circle cx="266.5" cy="156.2" r="0.95" fill="#a8f094" opacity="0.9"/>
<circle cx="246.3" cy="177.2" r="0.95" fill="#a8f094" opacity="0.9"/>
<circle cx="275.0" cy="182.8" r="0.95" fill="#a8f094" opacity="0.9"/>
<circle cx="278.9" cy="166.5" r="0.95" fill="#a8f094" opacity="0.9"/>
<circle cx="237.2" cy="164.8" r="0.95" fill="#a8f094" opacity="0.9"/>
<circle cx="276.0" cy="141.9" r="0.95" fill="#a8f094" opacity="0.9"/>
<circle cx="247.1" cy="139.2" r="0.95" fill="#a8f094" opacity="0.9"/>
<circle cx="261.0" cy="196.1" r="0.95" fill="#a8f094" opacity="0.9"/>
<circle cx="200.4" cy="165.9" r="0.95" fill="#a8f094" opacity="0.9"/>
<circle cx="257.2" cy="187.5" r="0.95" fill="#a8f094" opacity="0.9"/>
<circle cx="251.7" cy="137.6" r="0.95" fill="#a8f094" opacity="0.9"/>
<circle cx="235.4" cy="196.5" r="0.95" fill="#a8f094" opacity="0.9"/>
<circle cx="200.5" cy="153.5" r="0.95" fill="#a8f094" opacity="0.9"/>
<circle cx="258.2" cy="126.6" r="0.95" fill="#a8f094" opacity="0.9"/>
<circle cx="247.5" cy="143.2" r="0.95" fill="#a8f094" opacity="0.9"/>
<circle cx="243.4" cy="134.4" r="0.95" fill="#a8f094" opacity="0.9"/>
<circle cx="213.4" cy="131.5" r="0.95" fill="#a8f094" opacity="0.9"/>
<circle cx="232.8" cy="175.6" r="0.95" fill="#a8f094" opacity="0.9"/>
<circle cx="248.6" cy="119.9" r="0.95" fill="#a8f094" opacity="0.9"/>
<circle cx="263.3" cy="189.4" r="0.95" fill="#a8f094" opacity="0.9"/>
<ellipse cx="243" cy="158" rx="13.9" ry="12.9" fill="#9ce48a"/>
<text x="243.2" y="164.6" style="font-family:&quot;Liberation Serif&quot;,serif;font-weight:bold" font-size="19" fill="#2c4a26" stroke="#2c4a26" stroke-width="1.3" stroke-linejoin="miter" text-anchor="middle" textLength="19" lengthAdjust="spacingAndGlyphs">AI</text>
</g>

<ellipse cx="301.7" cy="163" rx="12.3" ry="11.9" fill="none" stroke="#a4a6bc" stroke-width="0.8"/>
<!-- C3 -->
<ellipse cx="533.2" cy="157.8" rx="76.7" ry="70.6" fill="#c5e0b4"/>
<ellipse cx="537" cy="160.8" rx="53.8" ry="49.2" fill="#000" opacity="0.45" filter="url(#sh)"/>
<ellipse cx="533.5" cy="157.1" rx="53.8" ry="49.2" fill="#f5f5f5"/>
<g clip-path="url(#cp3)">
<rect x="486" y="112" width="96" height="92" fill="#061128"/>
<ellipse cx="506" cy="132" rx="22" ry="14" fill="#10306a" opacity="0.9" filter="url(#bl1)"/>
<ellipse cx="562" cy="126" rx="24" ry="13" fill="#2a70c4" opacity="0.95" filter="url(#bl1)"/>
<path d="M486,150 L516,116" stroke="#2a5a9a" stroke-width="0.6" opacity="0.7"/>
<path d="M494,147 L524,113" stroke="#2a5a9a" stroke-width="0.6" opacity="0.7"/>
<path d="M502,144 L532,110" stroke="#2a5a9a" stroke-width="0.6" opacity="0.7"/>
<path d="M510,141 L540,107" stroke="#2a5a9a" stroke-width="0.6" opacity="0.7"/>
<path d="M518,138 L548,104" stroke="#2a5a9a" stroke-width="0.6" opacity="0.7"/>
<path d="M526,135 L556,101" stroke="#2a5a9a" stroke-width="0.6" opacity="0.7"/>
<path d="M534,132 L564,98" stroke="#2a5a9a" stroke-width="0.6" opacity="0.7"/>
<path d="M490,128 L540,108" stroke="#2a5a9a" stroke-width="0.5" opacity="0.6"/>
<path d="M492,134 L542,114" stroke="#2a5a9a" stroke-width="0.5" opacity="0.6"/>
<path d="M494,140 L544,120" stroke="#2a5a9a" stroke-width="0.5" opacity="0.6"/>
<path d="M496,146 L546,126" stroke="#2a5a9a" stroke-width="0.5" opacity="0.6"/>
<path d="M498,152 L548,132" stroke="#2a5a9a" stroke-width="0.5" opacity="0.6"/>
<circle cx="553.7" cy="135.2" r="0.6" fill="#a8dcff" opacity="0.8"/>
<circle cx="550.3" cy="129.5" r="0.6" fill="#a8dcff" opacity="0.8"/>
<circle cx="548.9" cy="119.4" r="0.6" fill="#a8dcff" opacity="0.8"/>
<circle cx="580.0" cy="118.6" r="0.6" fill="#a8dcff" opacity="0.8"/>
<circle cx="567.8" cy="124.1" r="0.6" fill="#a8dcff" opacity="0.8"/>
<circle cx="561.4" cy="124.9" r="0.6" fill="#a8dcff" opacity="0.8"/>
<circle cx="552.5" cy="132.3" r="0.6" fill="#a8dcff" opacity="0.8"/>
<circle cx="549.0" cy="119.2" r="0.6" fill="#a8dcff" opacity="0.8"/>
<circle cx="546.7" cy="119.9" r="0.6" fill="#a8dcff" opacity="0.8"/>
<circle cx="559.9" cy="133.8" r="0.6" fill="#a8dcff" opacity="0.8"/>
<circle cx="558.9" cy="116.5" r="0.6" fill="#a8dcff" opacity="0.8"/>
<circle cx="554.8" cy="135.8" r="0.6" fill="#a8dcff" opacity="0.8"/>
<circle cx="548.1" cy="127.6" r="0.6" fill="#a8dcff" opacity="0.8"/>
<circle cx="558.8" cy="128.5" r="0.6" fill="#a8dcff" opacity="0.8"/>
<circle cx="557.5" cy="129.2" r="0.6" fill="#a8dcff" opacity="0.8"/>
<circle cx="562.9" cy="128.3" r="0.6" fill="#a8dcff" opacity="0.8"/>
<circle cx="576.6" cy="126.8" r="0.6" fill="#a8dcff" opacity="0.8"/>
<circle cx="550.8" cy="115.4" r="0.6" fill="#a8dcff" opacity="0.8"/>
<circle cx="578.2" cy="124.8" r="0.6" fill="#a8dcff" opacity="0.8"/>
<circle cx="552.6" cy="134.8" r="0.6" fill="#a8dcff" opacity="0.8"/>
<circle cx="565.7" cy="130.0" r="0.6" fill="#a8dcff" opacity="0.8"/>
<circle cx="576.0" cy="120.3" r="0.6" fill="#a8dcff" opacity="0.8"/>
<circle cx="558.1" cy="133.3" r="0.6" fill="#a8dcff" opacity="0.8"/>
<circle cx="550.6" cy="130.8" r="0.6" fill="#a8dcff" opacity="0.8"/>
<circle cx="549.3" cy="129.2" r="0.6" fill="#a8dcff" opacity="0.8"/>
<circle cx="569.9" cy="134.9" r="0.6" fill="#a8dcff" opacity="0.8"/>
<circle cx="574.7" cy="125.1" r="0.6" fill="#a8dcff" opacity="0.8"/>
<circle cx="552.7" cy="117.3" r="0.6" fill="#a8dcff" opacity="0.8"/>
<circle cx="564.0" cy="125.2" r="0.6" fill="#a8dcff" opacity="0.8"/>
<circle cx="548.4" cy="133.9" r="0.6" fill="#a8dcff" opacity="0.8"/>
<circle cx="563.3" cy="129.4" r="0.6" fill="#a8dcff" opacity="0.8"/>
<circle cx="553.5" cy="119.4" r="0.6" fill="#a8dcff" opacity="0.8"/>
<circle cx="546.4" cy="121.6" r="0.6" fill="#a8dcff" opacity="0.8"/>
<circle cx="555.1" cy="123.3" r="0.6" fill="#a8dcff" opacity="0.8"/>
<circle cx="558.8" cy="132.4" r="0.6" fill="#a8dcff" opacity="0.8"/>
<circle cx="576.3" cy="117.9" r="0.6" fill="#a8dcff" opacity="0.8"/>
<circle cx="559.5" cy="117.7" r="0.6" fill="#a8dcff" opacity="0.8"/>
<circle cx="568.5" cy="135.4" r="0.6" fill="#a8dcff" opacity="0.8"/>
<circle cx="552.9" cy="130.9" r="0.6" fill="#a8dcff" opacity="0.8"/>
<circle cx="556.2" cy="114.3" r="0.6" fill="#a8dcff" opacity="0.8"/>
<polygon points="488,162 504,153 520,162 504,172" fill="#0c2850" stroke="#2a64a8" stroke-width="0.6"/>
<polygon points="502,172 520,162 536,172 518,182" fill="#0c2850" stroke="#2a64a8" stroke-width="0.6"/>
<polygon points="498,190 516,180 532,190 514,200" fill="#0c2850" stroke="#2a64a8" stroke-width="0.6"/>
<polygon points="520,182 538,172 554,182 536,192" fill="#0c2850" stroke="#2a64a8" stroke-width="0.6"/>
<polygon points="546,162 564,152 582,163 563,174" fill="#15508e" stroke="#4a9edc" stroke-width="0.7"/>
<polygon points="560,178 580,167 596,180 576,192" fill="#15508e" stroke="#4a9edc" stroke-width="0.7"/>
<polygon points="538,194 558,183 574,196 554,208" fill="#15508e" stroke="#4a9edc" stroke-width="0.7"/>
<polygon points="572,150 588,142 600,150 584,160" fill="#15508e" stroke="#4a9edc" stroke-width="0.7"/>
<path d="M505,160 L505,200 M560,150 L560,200 M530,168 L530,200" stroke="#4a9ad8" stroke-width="0.5" opacity="0.6"/>
<ellipse cx="517" cy="188.5" rx="7.5" ry="5" fill="#02060e" stroke="#58b4e6" stroke-width="1.4"/>
<path d="M509,185 A9,6 0 0 1 526,186" stroke="#9ad8f6" stroke-width="0.8" fill="none"/>
<polygon points="493,146 532,126 575,144 537.5,166" fill="#2d8ad0" opacity="0.6" filter="url(#bl1)"/>
<polygon points="494.2,145.8 531.7,127 573.4,143.7 537.3,164.6" fill="#78c4ee"/>
<polygon points="500.5,146 532,130.2 566.5,144 537,160.8" fill="#123f78"/>
<polygon points="502,146 532,131 565,144 537,160" fill="none" stroke="#d8f2ff" stroke-width="0.8" stroke-dasharray="2.2 1.6"/>
<polygon points="505,145.8 532.5,132.3 562,144 536.5,158.5" fill="#68b6e6"/>
<polygon points="508.5,145.3 533,133.6 558.5,143.8 536,156.8" fill="#2470bc"/>
<g transform="matrix(0.235,-0.118,0.264,0.114,509.5,145.1)"><text x="49" y="103" text-anchor="middle" font-size="128" fill="#f2fbff" stroke="#f2fbff" stroke-width="7" textLength="106" lengthAdjust="spacingAndGlyphs">AI</text></g>
<ellipse cx="533" cy="146" rx="14" ry="8" fill="#dff6ff" opacity="0.3" filter="url(#bl1)"/>
</g>

<!-- C4 -->
<ellipse cx="394.9" cy="324" rx="76.4" ry="70.5" fill="#ffe699"/>
<ellipse cx="398.1" cy="327.1" rx="53.6" ry="49.2" fill="#000" opacity="0.45" filter="url(#sh)"/>
<ellipse cx="394.6" cy="323.4" rx="53.6" ry="49.2" fill="#f5f5f5"/>
<g clip-path="url(#cp4)">
<rect x="347" y="280" width="96" height="90" fill="#686628"/>
<ellipse cx="412" cy="314" rx="34" ry="26" fill="#82803a" opacity="0.85" filter="url(#bl2)"/>
<ellipse cx="360" cy="350" rx="22" ry="18" fill="#8a883e" opacity="0.8" filter="url(#bl2)"/>
<path d="M369,291 L390,286 L394,296 L373,301 Z M380,288 L384,298 M371,296 L392,291" stroke="#a8a64e" stroke-width="0.9" fill="none" opacity="0.9"/>
<path d="M365,305 L385,300 M362,312 L384,307 M352,320 L366,317 M398,318 L422,314 M400,324 L420,321 M404,330 L424,327 M412,336 L430,333 M420,290 L436,294 M356,296 L366,300 M414,342 L430,339" stroke="#aaa852" stroke-width="1.1" opacity="0.75"/>
<path d="M424,330 L441,316 L441,330 Z" stroke="#acaa54" stroke-width="0.9" fill="none"/>
<circle cx="397.0" cy="297.0" r="0.8" fill="#dedc6c"/>
<circle cx="399.0" cy="300.7" r="0.8" fill="#dedc6c"/>
<circle cx="397.0" cy="304.4" r="0.8" fill="#dedc6c"/>
<circle cx="399.0" cy="308.1" r="0.8" fill="#dedc6c"/>
<circle cx="401.0" cy="297.0" r="0.8" fill="#dedc6c"/>
<circle cx="403.0" cy="300.7" r="0.8" fill="#dedc6c"/>
<circle cx="401.0" cy="304.4" r="0.8" fill="#dedc6c"/>
<circle cx="405.0" cy="297.0" r="0.8" fill="#dedc6c"/>
<circle cx="407.0" cy="300.7" r="0.8" fill="#dedc6c"/>
<circle cx="407.0" cy="308.1" r="0.8" fill="#dedc6c"/>
<circle cx="409.0" cy="297.0" r="0.8" fill="#dedc6c"/>
<circle cx="409.0" cy="304.4" r="0.8" fill="#dedc6c"/>
<circle cx="411.0" cy="308.1" r="0.8" fill="#dedc6c"/>
<circle cx="415.0" cy="300.7" r="0.8" fill="#dedc6c"/>
<circle cx="413.0" cy="304.4" r="0.8" fill="#dedc6c"/>
<circle cx="415.0" cy="308.1" r="0.8" fill="#dedc6c"/>
<circle cx="417.0" cy="297.0" r="0.8" fill="#dedc6c"/>
<circle cx="419.0" cy="300.7" r="0.8" fill="#dedc6c"/>
<circle cx="417.0" cy="304.4" r="0.8" fill="#dedc6c"/>
<circle cx="419.0" cy="308.1" r="0.8" fill="#dedc6c"/>
<circle cx="421.0" cy="297.0" r="0.8" fill="#dedc6c"/>
<circle cx="423.0" cy="300.7" r="0.8" fill="#dedc6c"/>
<circle cx="421.0" cy="304.4" r="0.8" fill="#dedc6c"/>
<circle cx="373" cy="302" r="2.2" fill="#d8d670" opacity="0.8" filter="url(#bl1)"/>
<path d="M347,344 C354,336 364,334 378,336 C390,338 398,344 400,352 L392,372 L347,372 Z" fill="#a4a250"/>
<path d="M376,346 C382,344 390,346 394,352 L388,360 C382,358 378,352 376,346 Z" fill="#b8b66a"/>
<path d="M367,321 C367,315 373,312 380,314 C386,317 387,326 384,331 C380,336 372,336 368,331 Z" fill="#c4c07c"/>
<path d="M376,317 L381,327 M372,326 L375,333" stroke="#1e1c0a" stroke-width="1.8"/>
<path d="M358,339 C362,335 371,336 380,340 C378,345 367,346 358,339 Z" fill="#1a1808"/>
<path d="M390.5,352 L409.3,337.6" stroke="#c8c688" stroke-width="2.4"/>
<circle cx="409" cy="337.5" r="1.3" fill="#1a1808"/>
<path d="M383.7,356.3 L404.2,350.4 L424.7,355.9 L440,362 L430,372 L383,372 Z" fill="#141308"/>
<path d="M398.2,354.6 L424,360" stroke="#7a7838" stroke-width="1"/>
<path d="M380,358 L386,356 L388,372 L378,372 Z" fill="#1a1808"/>
</g>

<!-- C5 -->
<ellipse cx="637.6" cy="327.2" rx="76.6" ry="70.6" fill="#9dc3e6"/>
<ellipse cx="641.1" cy="329.9" rx="53.2" ry="48.9" fill="#000" opacity="0.45" filter="url(#sh)"/>
<ellipse cx="637.6" cy="326.2" rx="53.2" ry="48.9" fill="#f5f5f5"/>
<g clip-path="url(#cp5)">
<rect x="590" y="282" width="96" height="90" fill="#3d5fb4"/>
<ellipse cx="630" cy="298" rx="40" ry="18" fill="#9ab0e4" opacity="0.7" filter="url(#bl2)"/>
<ellipse cx="666" cy="332" rx="12" ry="10" fill="#b0c2ec" opacity="0.7" filter="url(#bl2)"/>
<ellipse cx="604" cy="352" rx="16" ry="14" fill="#2a4aa0" opacity="0.6" filter="url(#bl2)"/>
<ellipse cx="660" cy="362" rx="18" ry="8" fill="#2d4ea4" opacity="0.5" filter="url(#bl2)"/>
<path d="M637,334.6 L614.1,306.1" stroke="#c0d0f2" stroke-width="0.6" opacity="0.65"/>
<path d="M637,334.6 L627,312.3" stroke="#c0d0f2" stroke-width="0.6" opacity="0.65"/>
<path d="M637,334.6 L596.2,314.5" stroke="#c0d0f2" stroke-width="0.6" opacity="0.65"/>
<path d="M637,334.6 L597.8,324.6" stroke="#c0d0f2" stroke-width="0.6" opacity="0.65"/>
<path d="M637,334.6 L615.2,323.5" stroke="#c0d0f2" stroke-width="0.6" opacity="0.65"/>
<path d="M637,334.6 L667.4,310" stroke="#c0d0f2" stroke-width="0.6" opacity="0.65"/>
<path d="M637,334.6 L656.2,315.6" stroke="#c0d0f2" stroke-width="0.6" opacity="0.65"/>
<path d="M637,334.6 L609.6,342.5" stroke="#c0d0f2" stroke-width="0.6" opacity="0.65"/>
<path d="M637,334.6 L624.8,353.7" stroke="#c0d0f2" stroke-width="0.6" opacity="0.65"/>
<path d="M637,334.6 L669.6,350.9" stroke="#c0d0f2" stroke-width="0.6" opacity="0.65"/>
<path d="M637,334.6 L668.5,333" stroke="#c0d0f2" stroke-width="0.6" opacity="0.65"/>
<path d="M637,334.6 L650,298" stroke="#c0d0f2" stroke-width="0.6" opacity="0.65"/>
<path d="M637,334.6 L620,292" stroke="#c0d0f2" stroke-width="0.6" opacity="0.65"/>
<path d="M636,302.2 L614.1,306.1" stroke="#c0d0f2" stroke-width="0.55" opacity="0.45"/>
<path d="M636,302.2 L627,312.3" stroke="#c0d0f2" stroke-width="0.55" opacity="0.45"/>
<path d="M636,302.2 L596.2,314.5" stroke="#c0d0f2" stroke-width="0.55" opacity="0.45"/>
<path d="M636,302.2 L597.8,324.6" stroke="#c0d0f2" stroke-width="0.55" opacity="0.45"/>
<path d="M636,302.2 L615.2,323.5" stroke="#c0d0f2" stroke-width="0.55" opacity="0.45"/>
<path d="M636,302.2 L667.4,310" stroke="#c0d0f2" stroke-width="0.55" opacity="0.45"/>
<path d="M636,302.2 L656.2,315.6" stroke="#c0d0f2" stroke-width="0.55" opacity="0.45"/>
<path d="M636,302.2 L593.4,295.7" stroke="#dce6fa" stroke-width="0.8" opacity="0.35"/>
<path d="M636,302.2 L599.2,287.9" stroke="#dce6fa" stroke-width="0.8" opacity="0.35"/>
<path d="M636,302.2 L609.0,281.7" stroke="#dce6fa" stroke-width="0.8" opacity="0.35"/>
<path d="M636,302.2 L621.7,277.6" stroke="#dce6fa" stroke-width="0.8" opacity="0.35"/>
<path d="M636,302.2 L636.0,276.2" stroke="#dce6fa" stroke-width="0.8" opacity="0.35"/>
<path d="M636,302.2 L650.3,277.6" stroke="#dce6fa" stroke-width="0.8" opacity="0.35"/>
<path d="M636,302.2 L663.0,281.7" stroke="#dce6fa" stroke-width="0.8" opacity="0.35"/>
<path d="M636,302.2 L672.8,287.9" stroke="#dce6fa" stroke-width="0.8" opacity="0.35"/>
<path d="M636,302.2 L678.6,295.7" stroke="#dce6fa" stroke-width="0.8" opacity="0.35"/>
<circle cx="614.1" cy="306.1" r="4" fill="#5a7ac8" fill-opacity="0.55" stroke="#d4def6" stroke-width="0.6" stroke-opacity="0.7"/>
<circle cx="627" cy="312.3" r="3.5" fill="#5a7ac8" fill-opacity="0.55" stroke="#d4def6" stroke-width="0.6" stroke-opacity="0.7"/>
<circle cx="596.2" cy="314.5" r="3.5" fill="#5a7ac8" fill-opacity="0.55" stroke="#d4def6" stroke-width="0.6" stroke-opacity="0.7"/>
<circle cx="597.8" cy="324.6" r="3.5" fill="#5a7ac8" fill-opacity="0.55" stroke="#d4def6" stroke-width="0.6" stroke-opacity="0.7"/>
<circle cx="615.2" cy="323.5" r="4" fill="#5a7ac8" fill-opacity="0.55" stroke="#d4def6" stroke-width="0.6" stroke-opacity="0.7"/>
<circle cx="667.4" cy="310" r="5" fill="#5a7ac8" fill-opacity="0.55" stroke="#d4def6" stroke-width="0.6" stroke-opacity="0.7"/>
<circle cx="656.2" cy="315.6" r="4" fill="#5a7ac8" fill-opacity="0.55" stroke="#d4def6" stroke-width="0.6" stroke-opacity="0.7"/>
<circle cx="609.6" cy="342.5" r="5" fill="#5a7ac8" fill-opacity="0.55" stroke="#d4def6" stroke-width="0.6" stroke-opacity="0.7"/>
<circle cx="624.8" cy="353.7" r="6" fill="#5a7ac8" fill-opacity="0.55" stroke="#d4def6" stroke-width="0.6" stroke-opacity="0.7"/>
<circle cx="669.6" cy="350.9" r="5" fill="#5a7ac8" fill-opacity="0.55" stroke="#d4def6" stroke-width="0.6" stroke-opacity="0.7"/>
<circle cx="668.5" cy="333" r="4.5" fill="#5a7ac8" fill-opacity="0.55" stroke="#d4def6" stroke-width="0.6" stroke-opacity="0.7"/>
<circle cx="650" cy="298" r="3.5" fill="#5a7ac8" fill-opacity="0.55" stroke="#d4def6" stroke-width="0.6" stroke-opacity="0.7"/>
<circle cx="620" cy="292" r="3" fill="#5a7ac8" fill-opacity="0.55" stroke="#d4def6" stroke-width="0.6" stroke-opacity="0.7"/>
<circle cx="637" cy="334.6" r="6" fill="#3a5cb0" stroke="#f0f4fc" stroke-width="1"/>
<path d="M631,336 A6,6 0 0 0 643,336 Z" fill="#f0f4fc"/>
<path d="M634.5,334 L634.5,331 M637,334 L637,329.5 M639.5,334 L639.5,331.5" stroke="#e8eefa" stroke-width="1"/>
<circle cx="636" cy="302.2" r="4.5" fill="#8aa2de" stroke="#f0f4fc" stroke-width="0.8"/>
<circle cx="605.7" cy="353.7" r="2.5" fill="#f4f7fd"/>
<circle cx="636" cy="364.4" r="3.5" fill="#f4f7fd"/>
<circle cx="645" cy="349.8" r="3" fill="#f4f7fd"/>
<circle cx="659.5" cy="349.2" r="2" fill="#f4f7fd"/>
<circle cx="637" cy="291" r="2" fill="#f4f7fd"/>
<circle cx="604" cy="300" r="1.5" fill="#f4f7fd"/>
<circle cx="660" cy="300" r="1.6" fill="#f4f7fd"/>
<circle cx="672" cy="322" r="1.5" fill="#f4f7fd"/>
<circle cx="628" cy="318" r="1.5" fill="#f4f7fd"/>
<circle cx="652" cy="290" r="1.5" fill="#f4f7fd"/>
</g>

<!-- green arrows -->
<polygon fill="#a9d18e" points="304.7,219.9 326.3,220.3 321.8,225.4 338.2,241.3 343.7,236.4 343.4,255.3 321.8,255.3 326.3,251 310.2,235.8 304.7,239.4"/>
<polygon fill="#a9d18e" points="483.7,220.3 461.3,220.5 466.2,225.4 449.8,241.3 444.6,237 444.9,256.5 466.2,256.1 462,251.6 478.4,235.8 483.7,239.8"/>
<polygon fill="#a9d18e" points="486.4,324.4 501.9,310.5 501.9,317.5 525.6,317.5 525.6,310.5 541.3,324.4 525.6,338.3 525.6,331.7 501.9,331.7 501.9,338.3"/>

<!-- labels -->
<rect x="216" y="21.7" width="10.5" height="42.5" fill="#548235"/>
<rect x="519.3" y="23.8" width="11.5" height="43" fill="#548235"/>
<rect x="0" y="207.6" width="11.6" height="42.3" fill="#2f5597"/>
<rect x="80.8" y="311.7" width="11.1" height="22.4" fill="#ffd966"/>
<rect x="661.9" y="190.8" width="11.1" height="42" fill="#9dc3e6"/>
<text x="236.60" y="40.00" font-size="16.5" fill="#385723" textLength="111.40" lengthAdjust="spacingAndGlyphs">Unsupervised</text>
<text x="236.60" y="59.50" font-size="16.5" fill="#385723" textLength="85.20" lengthAdjust="spacingAndGlyphs">Inspection</text>
<text x="328.00" y="59.50" font-size="16.5" fill="#385723" textLength="59.80" lengthAdjust="spacingAndGlyphs">System</text>
<text x="540.60" y="41.10" font-size="16.5" fill="#385723" textLength="90.00" lengthAdjust="spacingAndGlyphs">Supervised</text>
<text x="540.60" y="60.00" font-size="16.5" fill="#385723" textLength="84.60" lengthAdjust="spacingAndGlyphs">Inspection</text>
<text x="632.80" y="60.00" font-size="16.5" fill="#385723" textLength="58.80" lengthAdjust="spacingAndGlyphs">System</text>
<text x="21.20" y="222.00" font-size="16.5" fill="#2f5597" textLength="36.80" lengthAdjust="spacingAndGlyphs">Data</text>
<text x="21.20" y="241.60" font-size="16.5" fill="#2f5597" textLength="108.00" lengthAdjust="spacingAndGlyphs">Management</text>
<text x="137.00" y="241.60" font-size="16.5" fill="#2f5597" textLength="58.80" lengthAdjust="spacingAndGlyphs">System</text>
<text x="102.40" y="327.60" font-size="16.5" fill="#bf9000" textLength="39.60" lengthAdjust="spacingAndGlyphs">Auto</text>
<text x="147.60" y="327.60" font-size="16.5" fill="#bf9000" textLength="67.80" lengthAdjust="spacingAndGlyphs">Training</text>
<text x="220.80" y="327.60" font-size="16.5" fill="#bf9000" textLength="59.80" lengthAdjust="spacingAndGlyphs">System</text>
<text x="683.20" y="208.60" font-size="16.5" fill="#8faadc" textLength="38.20" lengthAdjust="spacingAndGlyphs">Data</text>
<text x="728.00" y="208.60" font-size="16.5" fill="#8faadc" textLength="66.00" lengthAdjust="spacingAndGlyphs">Analysis</text>
<text x="802.00" y="208.60" font-size="16.5" fill="#8faadc" textLength="13.20" lengthAdjust="spacingAndGlyphs">&amp;</text>
<text x="683.20" y="228.40" font-size="16.5" fill="#8faadc" textLength="107.60" lengthAdjust="spacingAndGlyphs">Management</text>
<text x="799.80" y="228.40" font-size="16.5" fill="#8faadc" textLength="58.00" lengthAdjust="spacingAndGlyphs">System</text>
</g>
</svg>
</body></html>
